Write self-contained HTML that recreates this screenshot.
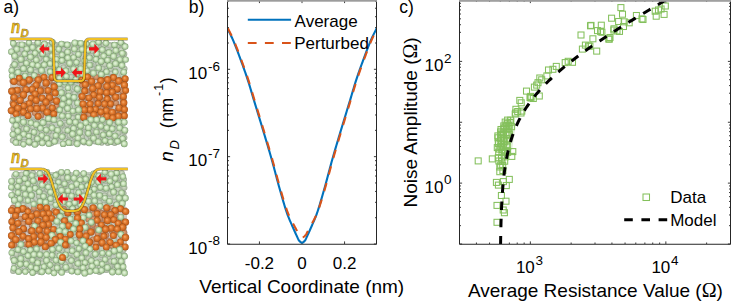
<!DOCTYPE html>
<html><head><meta charset="utf-8"><style>
html,body{margin:0;padding:0;background:#fff;}
body{width:732px;height:302px;overflow:hidden;font-family:"Liberation Sans",sans-serif;}
svg{display:block;}
</style></head><body><svg width="732" height="302" viewBox="0 0 732 302">
<defs>
<radialGradient id="gf" cx="50%" cy="50%" r="50%" fx="42%" fy="40%">
 <stop offset="0" stop-color="#e8f5e2"/><stop offset="0.45" stop-color="#cce4be"/>
 <stop offset="0.78" stop-color="#a4c494"/><stop offset="1" stop-color="#7a9a70"/></radialGradient>
<radialGradient id="gb" cx="50%" cy="50%" r="50%" fx="42%" fy="40%">
 <stop offset="0" stop-color="#d2dcc8"/><stop offset="0.6" stop-color="#b8c6ae"/>
 <stop offset="1" stop-color="#9aa892"/></radialGradient>
<radialGradient id="of" cx="50%" cy="50%" r="50%" fx="40%" fy="38%">
 <stop offset="0" stop-color="#f4ac6c"/><stop offset="0.45" stop-color="#e27c32"/>
 <stop offset="0.82" stop-color="#c8641e"/><stop offset="1" stop-color="#9c4e18"/></radialGradient>
<radialGradient id="ob" cx="50%" cy="50%" r="50%" fx="40%" fy="38%">
 <stop offset="0" stop-color="#e0a67c"/><stop offset="0.6" stop-color="#c88a60"/>
 <stop offset="1" stop-color="#a07058"/></radialGradient>
</defs><rect x="11.5" y="42.1" width="114.0" height="102.2" rx="3" fill="#c2cdbe"/><rect x="10.0" y="77.0" width="46.0" height="42.0" fill="#d2c8c0"/><rect x="82.0" y="77.0" width="45.0" height="42.0" fill="#d2c8c0"/><circle cx="83.6" cy="114.8" r="3.0" fill="url(#ob)"/><circle cx="109.1" cy="87.8" r="3.0" fill="url(#ob)"/><circle cx="104.5" cy="64.5" r="3.0" fill="url(#gb)"/><circle cx="110.0" cy="63.2" r="3.0" fill="url(#gb)"/><circle cx="108.8" cy="134.4" r="3.0" fill="url(#gb)"/><circle cx="41.6" cy="98.6" r="3.0" fill="url(#ob)"/><circle cx="58.7" cy="114.8" r="3.0" fill="url(#gb)"/><circle cx="42.6" cy="44.9" r="3.0" fill="url(#gb)"/><circle cx="87.1" cy="132.2" r="3.0" fill="url(#gb)"/><circle cx="97.3" cy="92.9" r="3.0" fill="url(#ob)"/><circle cx="28.9" cy="61.1" r="3.0" fill="url(#gb)"/><circle cx="124.0" cy="86.4" r="3.0" fill="url(#ob)"/><circle cx="63.6" cy="67.5" r="3.0" fill="url(#gb)"/><circle cx="64.4" cy="130.4" r="3.0" fill="url(#gb)"/><circle cx="58.6" cy="121.0" r="3.0" fill="url(#gb)"/><circle cx="87.0" cy="105.6" r="3.0" fill="url(#ob)"/><circle cx="13.3" cy="97.7" r="3.0" fill="url(#ob)"/><circle cx="102.7" cy="115.2" r="3.0" fill="url(#ob)"/><circle cx="115.9" cy="53.1" r="3.0" fill="url(#gb)"/><circle cx="81.2" cy="95.7" r="3.0" fill="url(#ob)"/><circle cx="79.4" cy="53.8" r="3.0" fill="url(#gb)"/><circle cx="59.3" cy="71.4" r="3.0" fill="url(#gb)"/><circle cx="22.2" cy="59.1" r="3.0" fill="url(#gb)"/><circle cx="72.3" cy="82.3" r="3.0" fill="url(#gb)"/><circle cx="53.1" cy="91.3" r="3.0" fill="url(#ob)"/><circle cx="29.5" cy="118.6" r="3.0" fill="url(#gb)"/><circle cx="99.3" cy="85.3" r="3.0" fill="url(#ob)"/><circle cx="122.8" cy="100.5" r="3.0" fill="url(#ob)"/><circle cx="67.0" cy="124.4" r="3.0" fill="url(#gb)"/><circle cx="85.4" cy="63.4" r="3.0" fill="url(#gb)"/><circle cx="81.9" cy="47.0" r="3.0" fill="url(#gb)"/><circle cx="89.2" cy="114.6" r="3.0" fill="url(#ob)"/><circle cx="36.1" cy="72.0" r="3.0" fill="url(#gb)"/><circle cx="71.1" cy="69.9" r="3.0" fill="url(#gb)"/><circle cx="26.1" cy="103.9" r="3.0" fill="url(#ob)"/><circle cx="29.8" cy="48.6" r="3.0" fill="url(#gb)"/><circle cx="45.5" cy="86.1" r="3.0" fill="url(#ob)"/><circle cx="91.4" cy="45.8" r="3.0" fill="url(#gb)"/><circle cx="110.7" cy="129.8" r="3.0" fill="url(#gb)"/><circle cx="58.3" cy="135.0" r="3.0" fill="url(#gb)"/><circle cx="68.3" cy="112.8" r="3.0" fill="url(#gb)"/><circle cx="44.1" cy="64.2" r="3.0" fill="url(#gb)"/><circle cx="77.7" cy="107.0" r="3.0" fill="url(#gb)"/><circle cx="96.7" cy="114.3" r="3.0" fill="url(#ob)"/><circle cx="69.1" cy="47.4" r="3.0" fill="url(#gb)"/><circle cx="36.5" cy="118.2" r="3.0" fill="url(#gb)"/><circle cx="46.5" cy="141.4" r="3.0" fill="url(#gb)"/><circle cx="109.8" cy="82.6" r="3.0" fill="url(#ob)"/><circle cx="35.4" cy="65.3" r="3.0" fill="url(#gb)"/><circle cx="64.6" cy="44.5" r="3.0" fill="url(#gb)"/><circle cx="48.9" cy="105.5" r="3.0" fill="url(#ob)"/><circle cx="110.0" cy="45.6" r="3.0" fill="url(#gb)"/><circle cx="32.2" cy="91.4" r="3.0" fill="url(#ob)"/><circle cx="117.3" cy="90.0" r="3.0" fill="url(#ob)"/><circle cx="32.6" cy="126.9" r="3.0" fill="url(#gb)"/><circle cx="21.9" cy="114.0" r="3.0" fill="url(#ob)"/><circle cx="28.6" cy="81.8" r="3.0" fill="url(#ob)"/><circle cx="65.3" cy="140.7" r="3.0" fill="url(#gb)"/><circle cx="21.5" cy="124.2" r="3.0" fill="url(#gb)"/><circle cx="117.7" cy="45.8" r="3.0" fill="url(#gb)"/><circle cx="43.6" cy="111.0" r="3.0" fill="url(#ob)"/><circle cx="18.5" cy="101.1" r="3.0" fill="url(#ob)"/><circle cx="42.9" cy="105.2" r="3.0" fill="url(#ob)"/><circle cx="82.1" cy="85.4" r="3.0" fill="url(#ob)"/><circle cx="45.3" cy="57.6" r="3.0" fill="url(#gb)"/><circle cx="93.1" cy="86.7" r="3.0" fill="url(#ob)"/><circle cx="119.7" cy="96.6" r="3.0" fill="url(#ob)"/><circle cx="15.4" cy="135.5" r="3.0" fill="url(#gb)"/><circle cx="101.3" cy="56.7" r="3.0" fill="url(#gb)"/><circle cx="71.2" cy="76.9" r="3.0" fill="url(#gb)"/><circle cx="66.1" cy="97.2" r="3.0" fill="url(#gb)"/><circle cx="37.4" cy="133.4" r="3.0" fill="url(#gb)"/><circle cx="84.2" cy="142.4" r="3.0" fill="url(#gb)"/><circle cx="46.9" cy="51.8" r="3.0" fill="url(#gb)"/><circle cx="36.7" cy="143.3" r="3.0" fill="url(#gb)"/><circle cx="37.0" cy="43.7" r="3.0" fill="url(#gb)"/><circle cx="113.4" cy="125.1" r="3.0" fill="url(#gb)"/><circle cx="101.1" cy="49.6" r="3.0" fill="url(#gb)"/><circle cx="107.3" cy="93.4" r="3.0" fill="url(#ob)"/><circle cx="93.5" cy="58.5" r="3.0" fill="url(#gb)"/><circle cx="15.7" cy="120.2" r="3.0" fill="url(#gb)"/><circle cx="43.8" cy="77.9" r="3.0" fill="url(#ob)"/><circle cx="117.9" cy="110.2" r="3.0" fill="url(#ob)"/><circle cx="110.1" cy="113.5" r="3.0" fill="url(#ob)"/><circle cx="39.2" cy="127.4" r="3.0" fill="url(#gb)"/><circle cx="48.7" cy="93.9" r="3.0" fill="url(#ob)"/><circle cx="53.5" cy="85.0" r="3.0" fill="url(#ob)"/><circle cx="36.8" cy="105.2" r="3.0" fill="url(#ob)"/><circle cx="25.2" cy="52.8" r="3.0" fill="url(#gb)"/><circle cx="58.9" cy="99.6" r="3.0" fill="url(#gb)"/><circle cx="112.5" cy="77.1" r="3.0" fill="url(#ob)"/><circle cx="37.9" cy="76.8" r="3.0" fill="url(#ob)"/><circle cx="107.7" cy="142.9" r="3.0" fill="url(#gb)"/><circle cx="48.9" cy="131.4" r="3.0" fill="url(#gb)"/><circle cx="100.3" cy="127.2" r="3.0" fill="url(#gb)"/><circle cx="102.7" cy="78.4" r="3.0" fill="url(#ob)"/><circle cx="64.7" cy="85.1" r="3.0" fill="url(#gb)"/><circle cx="119.4" cy="140.8" r="3.0" fill="url(#gb)"/><circle cx="113.1" cy="93.9" r="3.0" fill="url(#ob)"/><circle cx="72.6" cy="98.7" r="3.0" fill="url(#gb)"/><circle cx="96.5" cy="77.3" r="3.0" fill="url(#ob)"/><circle cx="12.5" cy="80.9" r="3.0" fill="url(#ob)"/><circle cx="32.3" cy="137.1" r="3.0" fill="url(#gb)"/><circle cx="23.8" cy="128.9" r="3.0" fill="url(#gb)"/><circle cx="124.5" cy="131.9" r="3.0" fill="url(#gb)"/><circle cx="105.7" cy="129.4" r="3.0" fill="url(#gb)"/><circle cx="88.9" cy="83.5" r="3.0" fill="url(#ob)"/><circle cx="59.2" cy="61.5" r="3.0" fill="url(#gb)"/><circle cx="14.4" cy="45.3" r="3.0" fill="url(#gb)"/><circle cx="81.1" cy="101.1" r="3.0" fill="url(#ob)"/><circle cx="51.7" cy="49.9" r="3.0" fill="url(#gb)"/><circle cx="56.5" cy="106.0" r="3.0" fill="url(#ob)"/><circle cx="73.1" cy="62.4" r="3.0" fill="url(#gb)"/><circle cx="114.7" cy="142.9" r="3.0" fill="url(#gb)"/><circle cx="98.3" cy="63.2" r="3.0" fill="url(#gb)"/><circle cx="52.5" cy="135.7" r="3.0" fill="url(#gb)"/><circle cx="72.7" cy="118.1" r="3.0" fill="url(#gb)"/><circle cx="13.5" cy="128.9" r="3.0" fill="url(#gb)"/><circle cx="124.3" cy="53.9" r="3.0" fill="url(#gb)"/><circle cx="62.8" cy="54.1" r="3.0" fill="url(#gb)"/><circle cx="14.4" cy="89.9" r="3.0" fill="url(#ob)"/><circle cx="96.8" cy="52.1" r="3.0" fill="url(#gb)"/><circle cx="40.2" cy="139.1" r="3.0" fill="url(#gb)"/><circle cx="115.0" cy="70.9" r="3.0" fill="url(#gb)"/><circle cx="75.9" cy="73.8" r="3.0" fill="url(#gb)"/><circle cx="68.9" cy="91.9" r="3.0" fill="url(#gb)"/><circle cx="13.6" cy="111.9" r="3.0" fill="url(#ob)"/><circle cx="96.8" cy="103.7" r="3.0" fill="url(#ob)"/><circle cx="91.9" cy="101.0" r="3.0" fill="url(#ob)"/><circle cx="34.8" cy="113.0" r="3.0" fill="url(#ob)"/><circle cx="16.2" cy="62.1" r="3.0" fill="url(#gb)"/><circle cx="40.2" cy="68.0" r="3.0" fill="url(#gb)"/><circle cx="39.4" cy="58.6" r="3.0" fill="url(#gb)"/><circle cx="21.0" cy="135.0" r="3.0" fill="url(#gb)"/><circle cx="94.6" cy="131.7" r="3.0" fill="url(#gb)"/><circle cx="74.8" cy="87.6" r="3.0" fill="url(#gb)"/><circle cx="107.8" cy="98.8" r="3.0" fill="url(#ob)"/><circle cx="18.8" cy="53.2" r="3.0" fill="url(#gb)"/><circle cx="86.5" cy="52.1" r="3.0" fill="url(#gb)"/><circle cx="24.3" cy="141.8" r="3.0" fill="url(#gb)"/><circle cx="32.6" cy="56.3" r="3.0" fill="url(#gb)"/><circle cx="122.1" cy="59.2" r="3.0" fill="url(#gb)"/><circle cx="116.2" cy="103.2" r="3.0" fill="url(#ob)"/><circle cx="75.8" cy="47.6" r="3.0" fill="url(#gb)"/><circle cx="82.0" cy="136.9" r="3.0" fill="url(#gb)"/><circle cx="40.2" cy="51.2" r="3.0" fill="url(#gb)"/><circle cx="22.9" cy="96.6" r="3.0" fill="url(#ob)"/><circle cx="124.5" cy="68.8" r="3.0" fill="url(#gb)"/><circle cx="122.4" cy="91.2" r="3.0" fill="url(#ob)"/><circle cx="23.4" cy="68.9" r="3.0" fill="url(#gb)"/><circle cx="74.9" cy="137.3" r="3.0" fill="url(#gb)"/><circle cx="40.2" cy="88.6" r="3.0" fill="url(#ob)"/><circle cx="78.3" cy="125.2" r="3.0" fill="url(#gb)"/><circle cx="48.8" cy="122.4" r="3.0" fill="url(#gb)"/><circle cx="22.9" cy="77.9" r="3.0" fill="url(#ob)"/><circle cx="90.5" cy="141.2" r="3.0" fill="url(#gb)"/><circle cx="20.6" cy="89.6" r="3.0" fill="url(#ob)"/><circle cx="60.4" cy="88.7" r="3.0" fill="url(#gb)"/><circle cx="53.4" cy="119.5" r="3.0" fill="url(#gb)"/><circle cx="65.2" cy="118.0" r="3.0" fill="url(#gb)"/><circle cx="19.5" cy="82.7" r="3.0" fill="url(#ob)"/><circle cx="44.8" cy="126.9" r="3.0" fill="url(#gb)"/><circle cx="122.5" cy="75.0" r="3.0" fill="url(#gb)"/><circle cx="106.9" cy="75.6" r="3.0" fill="url(#gb)"/><circle cx="17.0" cy="69.7" r="3.0" fill="url(#gb)"/><circle cx="80.7" cy="66.5" r="3.0" fill="url(#gb)"/><circle cx="91.8" cy="51.3" r="3.0" fill="url(#gb)"/><circle cx="61.6" cy="125.3" r="3.0" fill="url(#gb)"/><circle cx="73.7" cy="113.1" r="3.0" fill="url(#gb)"/><circle cx="12.6" cy="66.3" r="3.0" fill="url(#gb)"/><circle cx="27.6" cy="135.6" r="3.0" fill="url(#gb)"/><circle cx="54.7" cy="44.4" r="3.0" fill="url(#gb)"/><circle cx="41.2" cy="115.5" r="3.0" fill="url(#ob)"/><circle cx="50.3" cy="70.6" r="3.0" fill="url(#gb)"/><circle cx="70.6" cy="54.9" r="3.0" fill="url(#gb)"/><circle cx="63.6" cy="111.1" r="3.0" fill="url(#gb)"/><circle cx="118.1" cy="115.9" r="3.0" fill="url(#ob)"/><circle cx="42.9" cy="73.0" r="3.0" fill="url(#gb)"/><circle cx="62.2" cy="104.2" r="3.0" fill="url(#gb)"/><circle cx="107.2" cy="52.6" r="3.0" fill="url(#gb)"/><circle cx="92.7" cy="71.9" r="3.0" fill="url(#gb)"/><circle cx="78.2" cy="59.6" r="3.0" fill="url(#gb)"/><circle cx="81.0" cy="74.6" r="3.0" fill="url(#gb)"/><circle cx="102.0" cy="108.9" r="3.0" fill="url(#ob)"/><circle cx="116.1" cy="62.5" r="3.0" fill="url(#gb)"/><circle cx="33.6" cy="86.4" r="3.0" fill="url(#ob)"/><circle cx="56.5" cy="76.9" r="3.0" fill="url(#ob)"/><circle cx="93.1" cy="124.3" r="3.0" fill="url(#gb)"/><circle cx="67.2" cy="58.7" r="3.0" fill="url(#gb)"/><circle cx="101.7" cy="142.8" r="3.0" fill="url(#gb)"/><circle cx="122.7" cy="44.3" r="3.0" fill="url(#gb)"/><circle cx="110.5" cy="69.0" r="3.0" fill="url(#gb)"/><circle cx="69.7" cy="135.7" r="3.0" fill="url(#gb)"/><circle cx="65.2" cy="75.2" r="3.0" fill="url(#gb)"/><circle cx="72.9" cy="129.8" r="3.0" fill="url(#gb)"/><circle cx="101.0" cy="73.6" r="3.0" fill="url(#gb)"/><circle cx="99.5" cy="43.1" r="3.0" fill="url(#gb)"/><circle cx="120.7" cy="127.8" r="3.0" fill="url(#gb)"/><circle cx="102.7" cy="137.0" r="3.0" fill="url(#gb)"/><circle cx="32.7" cy="78.8" r="3.0" fill="url(#ob)"/><circle cx="95.7" cy="141.4" r="3.0" fill="url(#gb)"/><circle cx="49.4" cy="116.7" r="3.0" fill="url(#ob)"/><circle cx="92.1" cy="93.1" r="3.0" fill="url(#ob)"/><circle cx="86.2" cy="77.2" r="3.0" fill="url(#ob)"/><circle cx="29.8" cy="143.2" r="3.0" fill="url(#gb)"/><circle cx="86.2" cy="120.4" r="3.0" fill="url(#gb)"/><circle cx="37.7" cy="94.2" r="3.0" fill="url(#ob)"/><circle cx="19.2" cy="143.1" r="3.0" fill="url(#gb)"/><circle cx="41.0" cy="121.1" r="3.0" fill="url(#gb)"/><circle cx="16.4" cy="106.3" r="3.0" fill="url(#ob)"/><circle cx="123.5" cy="113.0" r="3.0" fill="url(#ob)"/><circle cx="118.5" cy="132.7" r="3.0" fill="url(#gb)"/><circle cx="74.8" cy="93.6" r="3.0" fill="url(#gb)"/><circle cx="108.5" cy="120.9" r="3.0" fill="url(#gb)"/><circle cx="55.9" cy="139.7" r="3.0" fill="url(#gb)"/><circle cx="91.4" cy="64.9" r="3.0" fill="url(#gb)"/><circle cx="119.5" cy="79.9" r="3.0" fill="url(#ob)"/><circle cx="110.2" cy="105.9" r="3.0" fill="url(#ob)"/><circle cx="52.4" cy="62.7" r="3.0" fill="url(#gb)"/><circle cx="54.3" cy="67.3" r="3.0" fill="url(#gb)"/><circle cx="24.2" cy="45.8" r="3.0" fill="url(#gb)"/><circle cx="124.4" cy="137.7" r="3.0" fill="url(#gb)"/><circle cx="78.1" cy="80.7" r="3.0" fill="url(#gb)"/><circle cx="14.0" cy="54.4" r="3.0" fill="url(#gb)"/><circle cx="70.0" cy="107.3" r="3.0" fill="url(#gb)"/><circle cx="113.7" cy="136.7" r="3.0" fill="url(#gb)"/><circle cx="84.9" cy="127.0" r="3.0" fill="url(#gb)"/><circle cx="13.3" cy="73.2" r="3.0" fill="url(#gb)"/><circle cx="101.1" cy="132.2" r="3.0" fill="url(#gb)"/><circle cx="92.5" cy="118.7" r="3.0" fill="url(#gb)"/><circle cx="31.0" cy="102.7" r="3.0" fill="url(#ob)"/><circle cx="27.4" cy="110.3" r="3.0" fill="url(#ob)"/><circle cx="56.9" cy="52.1" r="3.0" fill="url(#gb)"/><circle cx="26.5" cy="122.5" r="3.0" fill="url(#gb)"/><circle cx="97.2" cy="121.6" r="3.0" fill="url(#gb)"/><circle cx="30.3" cy="71.9" r="3.0" fill="url(#gb)"/><circle cx="104.4" cy="86.7" r="3.0" fill="url(#ob)"/><circle cx="111.6" cy="55.9" r="3.0" fill="url(#gb)"/><circle cx="55.1" cy="111.0" r="3.0" fill="url(#ob)"/><circle cx="43.9" cy="134.4" r="3.0" fill="url(#gb)"/><circle cx="113.5" cy="118.0" r="3.0" fill="url(#gb)"/><circle cx="115.2" cy="83.1" r="3.0" fill="url(#ob)"/><circle cx="37.8" cy="83.7" r="3.0" fill="url(#ob)"/><circle cx="58.8" cy="81.9" r="3.0" fill="url(#gb)"/><circle cx="123.3" cy="120.9" r="3.0" fill="url(#gb)"/><circle cx="86.8" cy="98.0" r="3.0" fill="url(#ob)"/><circle cx="26.4" cy="90.3" r="3.0" fill="url(#ob)"/><circle cx="35.0" cy="49.5" r="3.0" fill="url(#gb)"/><circle cx="85.4" cy="58.3" r="3.0" fill="url(#gb)"/><circle cx="29.3" cy="43.6" r="3.0" fill="url(#gb)"/><circle cx="96.9" cy="68.3" r="3.0" fill="url(#gb)"/><circle cx="79.0" cy="90.7" r="3.0" fill="url(#gb)"/><circle cx="56.3" cy="130.4" r="3.0" fill="url(#gb)"/><circle cx="91.0" cy="78.7" r="3.0" fill="url(#ob)"/><circle cx="67.1" cy="103.2" r="3.0" fill="url(#gb)"/><circle cx="78.6" cy="112.4" r="3.0" fill="url(#gb)"/><circle cx="22.4" cy="118.9" r="3.0" fill="url(#gb)"/><circle cx="63.3" cy="92.9" r="3.0" fill="url(#gb)"/><circle cx="51.0" cy="57.8" r="3.0" fill="url(#gb)"/><circle cx="101.5" cy="99.7" r="3.0" fill="url(#ob)"/><circle cx="80.5" cy="130.9" r="3.0" fill="url(#gb)"/><circle cx="87.6" cy="70.9" r="3.0" fill="url(#gb)"/><circle cx="120.8" cy="65.3" r="3.0" fill="url(#gb)"/><circle cx="28.3" cy="67.3" r="3.0" fill="url(#gb)"/><circle cx="67.7" cy="64.1" r="3.0" fill="url(#gb)"/><circle cx="18.8" cy="74.9" r="3.0" fill="url(#gb)"/><circle cx="124.3" cy="81.1" r="3.0" fill="url(#ob)"/><circle cx="31.9" cy="97.4" r="3.0" fill="url(#ob)"/><circle cx="46.5" cy="100.1" r="3.0" fill="url(#ob)"/><circle cx="86.8" cy="90.9" r="3.0" fill="url(#ob)"/><circle cx="58.1" cy="94.1" r="3.0" fill="url(#gb)"/><circle cx="77.9" cy="120.3" r="3.0" fill="url(#gb)"/><circle cx="82.7" cy="109.3" r="3.0" fill="url(#ob)"/><circle cx="75.8" cy="67.6" r="3.0" fill="url(#gb)"/><circle cx="92.5" cy="109.5" r="3.0" fill="url(#ob)"/><circle cx="50.7" cy="75.7" r="3.0" fill="url(#gb)"/><circle cx="51.8" cy="100.2" r="3.0" fill="url(#ob)"/><circle cx="103.2" cy="121.6" r="3.0" fill="url(#gb)"/><circle cx="12.8" cy="140.6" r="3.0" fill="url(#gb)"/><circle cx="48.9" cy="110.7" r="3.0" fill="url(#ob)"/><circle cx="21.5" cy="108.8" r="3.0" fill="url(#ob)"/><circle cx="19.2" cy="44.5" r="3.0" fill="url(#gb)"/><circle cx="48.4" cy="45.5" r="3.0" fill="url(#gb)"/><circle cx="76.6" cy="142.6" r="3.0" fill="url(#gb)"/><circle cx="25.5" cy="73.7" r="3.0" fill="url(#gb)"/><circle cx="51.6" cy="126.6" r="3.0" fill="url(#gb)"/><circle cx="96.8" cy="136.3" r="3.0" fill="url(#gb)"/><circle cx="66.1" cy="80.3" r="3.0" fill="url(#gb)"/><circle cx="44.5" cy="91.1" r="3.0" fill="url(#ob)"/><circle cx="123.0" cy="105.4" r="3.0" fill="url(#ob)"/><circle cx="104.0" cy="45.2" r="3.0" fill="url(#gb)"/><circle cx="71.6" cy="143.1" r="3.0" fill="url(#gb)"/><circle cx="49.6" cy="81.4" r="3.0" fill="url(#ob)"/><circle cx="85.8" cy="43.4" r="3.0" fill="url(#gb)"/><circle cx="59.9" cy="47.0" r="3.0" fill="url(#gb)"/><circle cx="78.0" cy="43.2" r="3.0" fill="url(#gb)"/><circle cx="72.6" cy="123.3" r="3.0" fill="url(#gb)"/><circle cx="104.7" cy="103.6" r="3.0" fill="url(#ob)"/><circle cx="18.3" cy="130.3" r="3.0" fill="url(#gb)"/><circle cx="17.6" cy="94.0" r="3.0" fill="url(#ob)"/><circle cx="90.4" cy="136.2" r="3.0" fill="url(#gb)"/><circle cx="96.7" cy="98.3" r="3.0" fill="url(#ob)"/><circle cx="30.5" cy="131.4" r="3.0" fill="url(#gb)"/><circle cx="102.5" cy="68.9" r="3.0" fill="url(#gb)"/><circle cx="51.3" cy="143.3" r="3.0" fill="url(#gb)"/><circle cx="102.5" cy="92.1" r="3.0" fill="url(#ob)"/><circle cx="106.4" cy="59.9" r="3.0" fill="url(#gb)"/><circle cx="12.5" cy="103.0" r="3.0" fill="url(#ob)"/><circle cx="63.3" cy="135.2" r="3.0" fill="url(#gb)"/><circle cx="32.5" cy="107.7" r="3.0" fill="url(#ob)"/><circle cx="96.3" cy="46.9" r="3.0" fill="url(#gb)"/><circle cx="117.6" cy="122.3" r="3.0" fill="url(#gb)"/><circle cx="33.2" cy="122.1" r="3.0" fill="url(#gb)"/><circle cx="121.1" cy="50.1" r="3.0" fill="url(#gb)"/><circle cx="24.5" cy="84.5" r="3.0" fill="url(#ob)"/><circle cx="38.7" cy="109.8" r="3.0" fill="url(#ob)"/><circle cx="21.3" cy="64.5" r="3.0" fill="url(#gb)"/><circle cx="123.7" cy="143.3" r="3.0" fill="url(#gb)"/><circle cx="112.9" cy="99.3" r="3.0" fill="url(#ob)"/><circle cx="98.5" cy="42.1" r="3.2" fill="url(#gf)"/><circle cx="52.4" cy="42.2" r="3.3" fill="url(#gf)"/><circle cx="120.8" cy="42.4" r="3.2" fill="url(#gf)"/><circle cx="29.0" cy="42.5" r="3.1" fill="url(#gf)"/><circle cx="38.0" cy="42.6" r="3.3" fill="url(#gf)"/><circle cx="74.9" cy="42.9" r="3.4" fill="url(#gf)"/><circle cx="106.0" cy="43.1" r="3.3" fill="url(#gf)"/><circle cx="80.8" cy="43.3" r="3.3" fill="url(#gf)"/><circle cx="13.2" cy="43.3" r="3.2" fill="url(#gf)"/><circle cx="86.5" cy="43.9" r="3.1" fill="url(#gf)"/><circle cx="61.5" cy="44.0" r="3.2" fill="url(#gf)"/><circle cx="44.4" cy="44.1" r="3.3" fill="url(#gf)"/><circle cx="92.9" cy="44.2" r="3.4" fill="url(#gf)"/><circle cx="22.0" cy="44.8" r="3.3" fill="url(#gf)"/><circle cx="67.3" cy="44.9" r="3.3" fill="url(#gf)"/><circle cx="114.5" cy="45.0" r="3.2" fill="url(#gf)"/><circle cx="125.1" cy="46.6" r="3.3" fill="url(#gf)"/><circle cx="32.6" cy="47.5" r="3.3" fill="url(#gf)"/><circle cx="26.8" cy="48.9" r="3.2" fill="url(#gf)"/><circle cx="50.7" cy="49.0" r="3.3" fill="url(#gf)"/><circle cx="74.4" cy="49.1" r="3.2" fill="url(#gf)"/><circle cx="58.8" cy="49.2" r="3.2" fill="url(#gf)"/><circle cx="16.8" cy="49.2" r="3.4" fill="url(#gf)"/><circle cx="39.2" cy="49.3" r="3.4" fill="url(#gf)"/><circle cx="82.1" cy="49.5" r="3.3" fill="url(#gf)"/><circle cx="102.3" cy="49.8" r="3.3" fill="url(#gf)"/><circle cx="88.3" cy="50.4" r="3.1" fill="url(#gf)"/><circle cx="115.9" cy="50.5" r="3.3" fill="url(#gf)"/><circle cx="11.4" cy="51.7" r="3.3" fill="url(#gf)"/><circle cx="67.6" cy="52.1" r="3.3" fill="url(#gf)"/><circle cx="109.0" cy="52.7" r="3.4" fill="url(#gf)"/><circle cx="35.1" cy="53.2" r="3.2" fill="url(#gf)"/><circle cx="122.3" cy="53.3" r="3.3" fill="url(#gf)"/><circle cx="96.7" cy="53.8" r="3.4" fill="url(#gf)"/><circle cx="42.6" cy="53.9" r="3.2" fill="url(#gf)"/><circle cx="24.8" cy="54.0" r="3.2" fill="url(#gf)"/><circle cx="78.4" cy="54.4" r="3.2" fill="url(#gf)"/><circle cx="62.0" cy="55.0" r="3.2" fill="url(#gf)"/><circle cx="51.9" cy="56.1" r="3.3" fill="url(#gf)"/><circle cx="103.8" cy="56.1" r="3.3" fill="url(#gf)"/><circle cx="14.8" cy="56.1" r="3.4" fill="url(#gf)"/><circle cx="113.6" cy="56.4" r="3.4" fill="url(#gf)"/><circle cx="30.5" cy="57.1" r="3.3" fill="url(#gf)"/><circle cx="73.6" cy="57.5" r="3.1" fill="url(#gf)"/><circle cx="89.4" cy="57.8" r="3.3" fill="url(#gf)"/><circle cx="67.8" cy="57.9" r="3.3" fill="url(#gf)"/><circle cx="20.9" cy="59.3" r="3.4" fill="url(#gf)"/><circle cx="46.2" cy="59.3" r="3.2" fill="url(#gf)"/><circle cx="56.3" cy="59.3" r="3.3" fill="url(#gf)"/><circle cx="96.0" cy="59.4" r="3.2" fill="url(#gf)"/><circle cx="125.7" cy="59.6" r="3.2" fill="url(#gf)"/><circle cx="119.9" cy="59.6" r="3.2" fill="url(#gf)"/><circle cx="36.3" cy="60.0" r="3.3" fill="url(#gf)"/><circle cx="107.6" cy="60.2" r="3.2" fill="url(#gf)"/><circle cx="62.0" cy="60.5" r="3.2" fill="url(#gf)"/><circle cx="84.8" cy="60.9" r="3.2" fill="url(#gf)"/><circle cx="101.2" cy="61.4" r="3.4" fill="url(#gf)"/><circle cx="76.5" cy="62.4" r="3.1" fill="url(#gf)"/><circle cx="26.5" cy="63.2" r="3.2" fill="url(#gf)"/><circle cx="69.7" cy="63.3" r="3.4" fill="url(#gf)"/><circle cx="115.6" cy="63.7" r="3.4" fill="url(#gf)"/><circle cx="50.1" cy="63.7" r="3.2" fill="url(#gf)"/><circle cx="14.6" cy="64.6" r="3.3" fill="url(#gf)"/><circle cx="32.5" cy="64.7" r="3.3" fill="url(#gf)"/><circle cx="55.9" cy="64.9" r="3.3" fill="url(#gf)"/><circle cx="44.3" cy="64.9" r="3.3" fill="url(#gf)"/><circle cx="89.7" cy="65.1" r="3.2" fill="url(#gf)"/><circle cx="121.9" cy="65.4" r="3.3" fill="url(#gf)"/><circle cx="37.9" cy="65.6" r="3.2" fill="url(#gf)"/><circle cx="109.8" cy="65.7" r="3.3" fill="url(#gf)"/><circle cx="98.7" cy="68.0" r="3.3" fill="url(#gf)"/><circle cx="23.5" cy="68.7" r="3.4" fill="url(#gf)"/><circle cx="80.7" cy="68.8" r="3.4" fill="url(#gf)"/><circle cx="73.7" cy="69.1" r="3.4" fill="url(#gf)"/><circle cx="59.5" cy="69.8" r="3.2" fill="url(#gf)"/><circle cx="30.5" cy="69.9" r="3.3" fill="url(#gf)"/><circle cx="11.7" cy="70.4" r="3.2" fill="url(#gf)"/><circle cx="41.6" cy="70.5" r="3.4" fill="url(#gf)"/><circle cx="65.9" cy="70.8" r="3.2" fill="url(#gf)"/><circle cx="87.2" cy="70.9" r="3.1" fill="url(#gf)"/><circle cx="50.2" cy="71.8" r="3.2" fill="url(#gf)"/><circle cx="106.5" cy="71.8" r="3.2" fill="url(#gf)"/><circle cx="115.4" cy="72.0" r="3.1" fill="url(#gf)"/><circle cx="123.8" cy="72.2" r="3.3" fill="url(#gf)"/><circle cx="18.0" cy="72.5" r="3.4" fill="url(#gf)"/><circle cx="93.5" cy="73.2" r="3.3" fill="url(#gf)"/><circle cx="76.8" cy="73.8" r="3.2" fill="url(#gf)"/><circle cx="82.5" cy="74.4" r="3.2" fill="url(#gf)"/><circle cx="101.3" cy="74.4" r="3.3" fill="url(#gf)"/><circle cx="34.2" cy="75.5" r="3.2" fill="url(#gf)"/><circle cx="12.0" cy="76.0" r="3.2" fill="url(#gf)"/><circle cx="25.1" cy="76.0" r="3.2" fill="url(#gf)"/><circle cx="66.4" cy="76.4" r="3.2" fill="url(#gf)"/><circle cx="87.5" cy="77.0" r="3.5" fill="url(#of)"/><circle cx="44.0" cy="77.2" r="3.5" fill="url(#of)"/><circle cx="52.1" cy="77.4" r="3.5" fill="url(#of)"/><circle cx="113.6" cy="77.6" r="3.5" fill="url(#of)"/><circle cx="19.3" cy="78.2" r="3.4" fill="url(#of)"/><circle cx="59.6" cy="78.3" r="3.4" fill="url(#gf)"/><circle cx="125.2" cy="78.7" r="3.5" fill="url(#of)"/><circle cx="107.6" cy="79.7" r="3.6" fill="url(#of)"/><circle cx="76.0" cy="79.7" r="3.4" fill="url(#gf)"/><circle cx="38.3" cy="79.9" r="3.7" fill="url(#of)"/><circle cx="29.2" cy="79.9" r="3.6" fill="url(#of)"/><circle cx="81.7" cy="80.2" r="3.4" fill="url(#of)"/><circle cx="100.8" cy="80.7" r="3.6" fill="url(#of)"/><circle cx="118.8" cy="81.0" r="3.7" fill="url(#of)"/><circle cx="91.6" cy="81.5" r="3.6" fill="url(#of)"/><circle cx="14.0" cy="81.5" r="3.5" fill="url(#of)"/><circle cx="64.9" cy="82.2" r="3.1" fill="url(#gf)"/><circle cx="70.9" cy="82.2" r="3.2" fill="url(#gf)"/><circle cx="23.4" cy="82.6" r="3.7" fill="url(#of)"/><circle cx="46.1" cy="82.9" r="3.7" fill="url(#of)"/><circle cx="59.3" cy="83.9" r="3.1" fill="url(#gf)"/><circle cx="85.3" cy="84.6" r="3.6" fill="url(#of)"/><circle cx="124.4" cy="85.1" r="3.7" fill="url(#of)"/><circle cx="36.1" cy="85.2" r="3.5" fill="url(#of)"/><circle cx="112.5" cy="85.2" r="3.5" fill="url(#of)"/><circle cx="98.0" cy="85.9" r="3.7" fill="url(#of)"/><circle cx="106.9" cy="86.3" r="3.6" fill="url(#of)"/><circle cx="54.2" cy="86.9" r="3.6" fill="url(#of)"/><circle cx="68.0" cy="88.0" r="3.1" fill="url(#gf)"/><circle cx="92.7" cy="88.5" r="3.6" fill="url(#of)"/><circle cx="117.2" cy="88.9" r="3.5" fill="url(#of)"/><circle cx="77.4" cy="89.0" r="3.4" fill="url(#gf)"/><circle cx="32.1" cy="89.3" r="3.6" fill="url(#of)"/><circle cx="26.1" cy="89.4" r="3.5" fill="url(#of)"/><circle cx="17.3" cy="90.2" r="3.5" fill="url(#of)"/><circle cx="48.1" cy="90.5" r="3.5" fill="url(#of)"/><circle cx="125.7" cy="90.5" r="3.4" fill="url(#of)"/><circle cx="40.3" cy="90.8" r="3.6" fill="url(#of)"/><circle cx="84.7" cy="91.0" r="3.4" fill="url(#of)"/><circle cx="11.8" cy="91.3" r="3.7" fill="url(#of)"/><circle cx="100.2" cy="91.7" r="3.5" fill="url(#of)"/><circle cx="112.2" cy="92.0" r="3.4" fill="url(#of)"/><circle cx="106.6" cy="92.7" r="3.5" fill="url(#of)"/><circle cx="61.4" cy="92.8" r="3.4" fill="url(#gf)"/><circle cx="55.2" cy="93.1" r="3.5" fill="url(#of)"/><circle cx="35.1" cy="94.0" r="3.5" fill="url(#of)"/><circle cx="23.5" cy="94.7" r="3.7" fill="url(#of)"/><circle cx="93.7" cy="94.9" r="3.4" fill="url(#of)"/><circle cx="68.6" cy="95.9" r="3.2" fill="url(#gf)"/><circle cx="82.2" cy="96.4" r="3.5" fill="url(#of)"/><circle cx="123.4" cy="96.5" r="3.5" fill="url(#of)"/><circle cx="115.7" cy="97.1" r="3.6" fill="url(#of)"/><circle cx="99.5" cy="97.3" r="3.5" fill="url(#of)"/><circle cx="74.1" cy="97.4" r="3.3" fill="url(#gf)"/><circle cx="14.2" cy="97.5" r="3.6" fill="url(#of)"/><circle cx="49.5" cy="97.7" r="3.7" fill="url(#of)"/><circle cx="88.9" cy="97.8" r="3.4" fill="url(#of)"/><circle cx="42.1" cy="98.1" r="3.6" fill="url(#of)"/><circle cx="31.1" cy="98.2" r="3.4" fill="url(#of)"/><circle cx="63.7" cy="98.6" r="3.2" fill="url(#gf)"/><circle cx="107.2" cy="99.0" r="3.4" fill="url(#of)"/><circle cx="36.2" cy="100.3" r="3.6" fill="url(#of)"/><circle cx="20.2" cy="100.4" r="3.6" fill="url(#of)"/><circle cx="56.5" cy="101.0" r="3.7" fill="url(#of)"/><circle cx="46.0" cy="102.2" r="3.6" fill="url(#of)"/><circle cx="69.1" cy="102.3" r="3.2" fill="url(#gf)"/><circle cx="123.8" cy="102.8" r="3.6" fill="url(#of)"/><circle cx="77.5" cy="103.1" r="3.3" fill="url(#gf)"/><circle cx="29.2" cy="103.5" r="3.5" fill="url(#of)"/><circle cx="98.2" cy="103.5" r="3.4" fill="url(#of)"/><circle cx="110.6" cy="103.9" r="3.4" fill="url(#of)"/><circle cx="90.1" cy="104.0" r="3.5" fill="url(#of)"/><circle cx="104.6" cy="104.0" r="3.5" fill="url(#of)"/><circle cx="83.1" cy="104.0" r="3.6" fill="url(#of)"/><circle cx="13.7" cy="104.6" r="3.5" fill="url(#of)"/><circle cx="62.5" cy="104.6" r="3.4" fill="url(#gf)"/><circle cx="23.8" cy="106.0" r="3.4" fill="url(#of)"/><circle cx="52.3" cy="107.9" r="3.4" fill="url(#of)"/><circle cx="119.1" cy="107.9" r="3.6" fill="url(#of)"/><circle cx="17.9" cy="108.2" r="3.7" fill="url(#of)"/><circle cx="42.8" cy="108.2" r="3.6" fill="url(#of)"/><circle cx="67.6" cy="108.4" r="3.4" fill="url(#gf)"/><circle cx="36.8" cy="108.5" r="3.7" fill="url(#of)"/><circle cx="30.5" cy="108.9" r="3.5" fill="url(#of)"/><circle cx="124.5" cy="109.4" r="3.5" fill="url(#of)"/><circle cx="95.6" cy="109.4" r="3.6" fill="url(#of)"/><circle cx="90.0" cy="109.8" r="3.6" fill="url(#of)"/><circle cx="84.5" cy="109.9" r="3.5" fill="url(#of)"/><circle cx="59.8" cy="109.9" r="3.1" fill="url(#gf)"/><circle cx="78.6" cy="110.0" r="3.4" fill="url(#gf)"/><circle cx="11.3" cy="110.6" r="3.6" fill="url(#of)"/><circle cx="106.3" cy="110.7" r="3.6" fill="url(#of)"/><circle cx="72.9" cy="111.1" r="3.1" fill="url(#gf)"/><circle cx="100.9" cy="112.0" r="3.4" fill="url(#of)"/><circle cx="23.5" cy="112.2" r="3.6" fill="url(#of)"/><circle cx="47.1" cy="112.3" r="3.7" fill="url(#of)"/><circle cx="112.3" cy="112.4" r="3.7" fill="url(#of)"/><circle cx="53.8" cy="113.9" r="3.4" fill="url(#of)"/><circle cx="16.2" cy="114.1" r="3.4" fill="url(#of)"/><circle cx="93.9" cy="114.9" r="3.7" fill="url(#of)"/><circle cx="28.0" cy="115.7" r="3.4" fill="url(#of)"/><circle cx="124.4" cy="115.7" r="3.5" fill="url(#of)"/><circle cx="62.2" cy="116.0" r="3.3" fill="url(#gf)"/><circle cx="68.3" cy="116.1" r="3.2" fill="url(#gf)"/><circle cx="118.4" cy="116.3" r="3.7" fill="url(#of)"/><circle cx="38.1" cy="116.4" r="3.4" fill="url(#of)"/><circle cx="107.1" cy="116.6" r="3.7" fill="url(#of)"/><circle cx="78.2" cy="117.2" r="3.1" fill="url(#gf)"/><circle cx="83.8" cy="117.4" r="3.6" fill="url(#of)"/><circle cx="112.7" cy="117.9" r="3.5" fill="url(#of)"/><circle cx="48.5" cy="118.7" r="3.4" fill="url(#gf)"/><circle cx="17.8" cy="119.5" r="3.3" fill="url(#gf)"/><circle cx="96.7" cy="119.7" r="3.3" fill="url(#gf)"/><circle cx="102.5" cy="119.8" r="3.1" fill="url(#gf)"/><circle cx="90.8" cy="119.8" r="3.4" fill="url(#gf)"/><circle cx="54.0" cy="119.8" r="3.3" fill="url(#gf)"/><circle cx="12.3" cy="120.4" r="3.1" fill="url(#gf)"/><circle cx="69.5" cy="121.8" r="3.3" fill="url(#gf)"/><circle cx="118.6" cy="122.2" r="3.4" fill="url(#gf)"/><circle cx="23.5" cy="122.2" r="3.4" fill="url(#gf)"/><circle cx="124.3" cy="122.2" r="3.3" fill="url(#gf)"/><circle cx="75.5" cy="122.3" r="3.3" fill="url(#gf)"/><circle cx="109.5" cy="122.6" r="3.4" fill="url(#gf)"/><circle cx="43.0" cy="122.7" r="3.4" fill="url(#gf)"/><circle cx="85.9" cy="122.9" r="3.3" fill="url(#gf)"/><circle cx="31.0" cy="123.0" r="3.2" fill="url(#gf)"/><circle cx="60.2" cy="123.4" r="3.2" fill="url(#gf)"/><circle cx="36.3" cy="124.6" r="3.4" fill="url(#gf)"/><circle cx="94.4" cy="125.5" r="3.3" fill="url(#gf)"/><circle cx="16.2" cy="125.5" r="3.3" fill="url(#gf)"/><circle cx="80.6" cy="125.8" r="3.4" fill="url(#gf)"/><circle cx="101.0" cy="126.1" r="3.2" fill="url(#gf)"/><circle cx="88.5" cy="127.9" r="3.4" fill="url(#gf)"/><circle cx="106.8" cy="127.9" r="3.3" fill="url(#gf)"/><circle cx="119.7" cy="128.0" r="3.3" fill="url(#gf)"/><circle cx="52.1" cy="128.0" r="3.3" fill="url(#gf)"/><circle cx="40.5" cy="128.3" r="3.2" fill="url(#gf)"/><circle cx="73.6" cy="128.5" r="3.3" fill="url(#gf)"/><circle cx="112.3" cy="128.8" r="3.2" fill="url(#gf)"/><circle cx="26.6" cy="128.9" r="3.2" fill="url(#gf)"/><circle cx="46.3" cy="130.0" r="3.2" fill="url(#gf)"/><circle cx="124.9" cy="130.2" r="3.3" fill="url(#gf)"/><circle cx="57.7" cy="130.3" r="3.4" fill="url(#gf)"/><circle cx="67.7" cy="130.4" r="3.1" fill="url(#gf)"/><circle cx="17.7" cy="131.2" r="3.4" fill="url(#gf)"/><circle cx="96.4" cy="132.1" r="3.2" fill="url(#gf)"/><circle cx="34.1" cy="132.2" r="3.2" fill="url(#gf)"/><circle cx="79.7" cy="132.4" r="3.4" fill="url(#gf)"/><circle cx="88.3" cy="133.4" r="3.2" fill="url(#gf)"/><circle cx="109.3" cy="133.9" r="3.2" fill="url(#gf)"/><circle cx="72.6" cy="134.0" r="3.4" fill="url(#gf)"/><circle cx="23.7" cy="134.3" r="3.3" fill="url(#gf)"/><circle cx="12.9" cy="134.5" r="3.3" fill="url(#gf)"/><circle cx="103.3" cy="135.0" r="3.2" fill="url(#gf)"/><circle cx="55.9" cy="135.6" r="3.2" fill="url(#gf)"/><circle cx="41.9" cy="135.6" r="3.2" fill="url(#gf)"/><circle cx="115.1" cy="136.1" r="3.3" fill="url(#gf)"/><circle cx="28.9" cy="136.2" r="3.1" fill="url(#gf)"/><circle cx="62.2" cy="136.8" r="3.3" fill="url(#gf)"/><circle cx="19.2" cy="137.7" r="3.2" fill="url(#gf)"/><circle cx="78.0" cy="138.2" r="3.3" fill="url(#gf)"/><circle cx="93.6" cy="138.3" r="3.3" fill="url(#gf)"/><circle cx="46.8" cy="138.3" r="3.3" fill="url(#gf)"/><circle cx="122.7" cy="138.6" r="3.2" fill="url(#gf)"/><circle cx="37.4" cy="138.9" r="3.2" fill="url(#gf)"/><circle cx="105.1" cy="140.7" r="3.2" fill="url(#gf)"/><circle cx="83.5" cy="141.4" r="3.2" fill="url(#gf)"/><circle cx="117.5" cy="141.4" r="3.3" fill="url(#gf)"/><circle cx="54.6" cy="141.5" r="3.2" fill="url(#gf)"/><circle cx="29.1" cy="141.7" r="3.4" fill="url(#gf)"/><circle cx="98.4" cy="141.8" r="3.4" fill="url(#gf)"/><circle cx="110.6" cy="141.9" r="3.1" fill="url(#gf)"/><circle cx="15.9" cy="142.6" r="3.3" fill="url(#gf)"/><circle cx="68.8" cy="142.7" r="3.4" fill="url(#gf)"/><circle cx="42.3" cy="142.9" r="3.3" fill="url(#gf)"/><circle cx="89.2" cy="143.0" r="3.3" fill="url(#gf)"/><circle cx="48.8" cy="143.7" r="3.2" fill="url(#gf)"/><circle cx="77.2" cy="143.8" r="3.4" fill="url(#gf)"/><circle cx="63.2" cy="143.9" r="3.2" fill="url(#gf)"/><circle cx="124.3" cy="143.9" r="3.3" fill="url(#gf)"/><circle cx="23.5" cy="144.3" r="3.1" fill="url(#gf)"/><circle cx="34.9" cy="144.5" r="3.3" fill="url(#gf)"/><rect x="11.5" y="172.1" width="114.0" height="100.9" rx="3" fill="#c2cdbe"/><rect x="10.0" y="207.0" width="40.0" height="40.0" fill="#d2c8c0"/><rect x="92.0" y="207.0" width="35.0" height="40.0" fill="#d2c8c0"/><circle cx="59.1" cy="227.9" r="3.0" fill="url(#gb)"/><circle cx="38.3" cy="260.8" r="3.0" fill="url(#gb)"/><circle cx="118.4" cy="189.3" r="3.0" fill="url(#gb)"/><circle cx="44.3" cy="240.6" r="3.0" fill="url(#ob)"/><circle cx="32.0" cy="194.9" r="3.0" fill="url(#gb)"/><circle cx="62.0" cy="250.5" r="3.0" fill="url(#gb)"/><circle cx="101.6" cy="255.1" r="3.0" fill="url(#gb)"/><circle cx="118.4" cy="232.6" r="3.0" fill="url(#ob)"/><circle cx="112.1" cy="189.2" r="3.0" fill="url(#gb)"/><circle cx="57.4" cy="265.4" r="3.0" fill="url(#gb)"/><circle cx="16.2" cy="184.2" r="3.0" fill="url(#gb)"/><circle cx="100.3" cy="224.4" r="3.0" fill="url(#ob)"/><circle cx="114.1" cy="269.7" r="3.0" fill="url(#gb)"/><circle cx="106.9" cy="246.8" r="3.0" fill="url(#gb)"/><circle cx="53.6" cy="193.4" r="3.0" fill="url(#gb)"/><circle cx="110.2" cy="220.7" r="3.0" fill="url(#gb)"/><circle cx="117.8" cy="178.3" r="3.0" fill="url(#gb)"/><circle cx="59.9" cy="205.6" r="3.0" fill="url(#gb)"/><circle cx="83.4" cy="214.6" r="3.0" fill="url(#gb)"/><circle cx="118.4" cy="183.6" r="3.0" fill="url(#gb)"/><circle cx="92.1" cy="200.9" r="3.0" fill="url(#gb)"/><circle cx="110.0" cy="193.7" r="3.0" fill="url(#gb)"/><circle cx="17.8" cy="206.5" r="3.0" fill="url(#ob)"/><circle cx="68.5" cy="257.8" r="3.0" fill="url(#gb)"/><circle cx="111.7" cy="231.1" r="3.0" fill="url(#ob)"/><circle cx="116.7" cy="259.8" r="3.0" fill="url(#gb)"/><circle cx="108.7" cy="240.7" r="3.0" fill="url(#ob)"/><circle cx="80.6" cy="223.5" r="3.0" fill="url(#ob)"/><circle cx="112.6" cy="246.2" r="3.0" fill="url(#ob)"/><circle cx="51.6" cy="184.5" r="3.0" fill="url(#gb)"/><circle cx="75.0" cy="225.2" r="3.0" fill="url(#gb)"/><circle cx="42.5" cy="263.4" r="3.0" fill="url(#gb)"/><circle cx="16.3" cy="254.4" r="3.0" fill="url(#gb)"/><circle cx="95.3" cy="193.9" r="3.0" fill="url(#gb)"/><circle cx="86.4" cy="233.0" r="3.0" fill="url(#ob)"/><circle cx="87.4" cy="267.0" r="3.0" fill="url(#gb)"/><circle cx="92.3" cy="180.5" r="3.0" fill="url(#gb)"/><circle cx="39.6" cy="235.3" r="3.0" fill="url(#ob)"/><circle cx="49.9" cy="256.9" r="3.0" fill="url(#gb)"/><circle cx="25.5" cy="200.8" r="3.0" fill="url(#gb)"/><circle cx="54.3" cy="210.7" r="3.0" fill="url(#ob)"/><circle cx="103.8" cy="204.8" r="3.0" fill="url(#gb)"/><circle cx="44.6" cy="251.7" r="3.0" fill="url(#gb)"/><circle cx="62.7" cy="177.8" r="3.0" fill="url(#gb)"/><circle cx="69.9" cy="265.8" r="3.0" fill="url(#gb)"/><circle cx="124.0" cy="179.6" r="3.0" fill="url(#gb)"/><circle cx="102.2" cy="213.1" r="3.0" fill="url(#ob)"/><circle cx="68.1" cy="219.3" r="3.0" fill="url(#ob)"/><circle cx="124.0" cy="270.9" r="3.0" fill="url(#gb)"/><circle cx="33.1" cy="239.9" r="3.0" fill="url(#ob)"/><circle cx="45.0" cy="183.9" r="3.0" fill="url(#gb)"/><circle cx="86.5" cy="190.3" r="3.0" fill="url(#gb)"/><circle cx="74.6" cy="180.1" r="3.0" fill="url(#gb)"/><circle cx="15.2" cy="192.4" r="3.0" fill="url(#gb)"/><circle cx="42.4" cy="174.6" r="3.0" fill="url(#gb)"/><circle cx="76.7" cy="261.6" r="3.0" fill="url(#gb)"/><circle cx="93.0" cy="239.5" r="3.0" fill="url(#ob)"/><circle cx="104.0" cy="189.0" r="3.0" fill="url(#gb)"/><circle cx="55.3" cy="233.4" r="3.0" fill="url(#ob)"/><circle cx="28.5" cy="269.9" r="3.0" fill="url(#gb)"/><circle cx="51.4" cy="216.4" r="3.0" fill="url(#gb)"/><circle cx="101.2" cy="237.5" r="3.0" fill="url(#ob)"/><circle cx="93.0" cy="225.0" r="3.0" fill="url(#ob)"/><circle cx="31.1" cy="178.7" r="3.0" fill="url(#gb)"/><circle cx="49.0" cy="234.5" r="3.0" fill="url(#ob)"/><circle cx="93.9" cy="175.3" r="3.0" fill="url(#gb)"/><circle cx="20.5" cy="199.9" r="3.0" fill="url(#gb)"/><circle cx="120.8" cy="244.5" r="3.0" fill="url(#ob)"/><circle cx="73.6" cy="187.3" r="3.0" fill="url(#gb)"/><circle cx="39.4" cy="244.0" r="3.0" fill="url(#ob)"/><circle cx="31.8" cy="225.6" r="3.0" fill="url(#ob)"/><circle cx="109.7" cy="226.1" r="3.0" fill="url(#gb)"/><circle cx="17.4" cy="266.6" r="3.0" fill="url(#gb)"/><circle cx="75.9" cy="191.9" r="3.0" fill="url(#gb)"/><circle cx="68.2" cy="206.0" r="3.0" fill="url(#gb)"/><circle cx="93.5" cy="255.5" r="3.0" fill="url(#gb)"/><circle cx="44.3" cy="194.0" r="3.0" fill="url(#gb)"/><circle cx="90.1" cy="249.2" r="3.0" fill="url(#gb)"/><circle cx="12.9" cy="219.6" r="3.0" fill="url(#ob)"/><circle cx="108.3" cy="200.9" r="3.0" fill="url(#gb)"/><circle cx="40.4" cy="203.9" r="3.0" fill="url(#gb)"/><circle cx="20.7" cy="233.0" r="3.0" fill="url(#ob)"/><circle cx="26.1" cy="244.2" r="3.0" fill="url(#ob)"/><circle cx="23.4" cy="223.6" r="3.0" fill="url(#ob)"/><circle cx="58.1" cy="259.2" r="3.0" fill="url(#gb)"/><circle cx="116.0" cy="212.7" r="3.0" fill="url(#ob)"/><circle cx="100.6" cy="182.2" r="3.0" fill="url(#gb)"/><circle cx="58.2" cy="197.1" r="3.0" fill="url(#gb)"/><circle cx="31.6" cy="265.8" r="3.0" fill="url(#gb)"/><circle cx="97.1" cy="249.7" r="3.0" fill="url(#gb)"/><circle cx="61.9" cy="243.1" r="3.0" fill="url(#gb)"/><circle cx="78.8" cy="198.8" r="3.0" fill="url(#gb)"/><circle cx="93.4" cy="214.1" r="3.0" fill="url(#ob)"/><circle cx="58.6" cy="192.2" r="3.0" fill="url(#gb)"/><circle cx="25.4" cy="183.3" r="3.0" fill="url(#gb)"/><circle cx="66.2" cy="184.6" r="3.0" fill="url(#gb)"/><circle cx="89.4" cy="243.4" r="3.0" fill="url(#gb)"/><circle cx="73.1" cy="206.5" r="3.0" fill="url(#gb)"/><circle cx="53.0" cy="267.9" r="3.0" fill="url(#gb)"/><circle cx="116.0" cy="204.4" r="3.0" fill="url(#gb)"/><circle cx="113.0" cy="252.2" r="3.0" fill="url(#gb)"/><circle cx="72.4" cy="212.0" r="3.0" fill="url(#gb)"/><circle cx="14.3" cy="245.3" r="3.0" fill="url(#ob)"/><circle cx="114.8" cy="197.3" r="3.0" fill="url(#gb)"/><circle cx="74.9" cy="240.0" r="3.0" fill="url(#gb)"/><circle cx="72.5" cy="248.9" r="3.0" fill="url(#gb)"/><circle cx="32.2" cy="213.8" r="3.0" fill="url(#ob)"/><circle cx="78.6" cy="252.8" r="3.0" fill="url(#gb)"/><circle cx="118.3" cy="221.8" r="3.0" fill="url(#ob)"/><circle cx="34.2" cy="219.8" r="3.0" fill="url(#ob)"/><circle cx="47.6" cy="174.2" r="3.0" fill="url(#gb)"/><circle cx="39.9" cy="272.0" r="3.0" fill="url(#gb)"/><circle cx="68.3" cy="174.3" r="3.0" fill="url(#gb)"/><circle cx="50.9" cy="202.5" r="3.0" fill="url(#gb)"/><circle cx="47.4" cy="268.1" r="3.0" fill="url(#gb)"/><circle cx="88.5" cy="219.6" r="3.0" fill="url(#ob)"/><circle cx="84.4" cy="200.6" r="3.0" fill="url(#gb)"/><circle cx="22.4" cy="252.7" r="3.0" fill="url(#gb)"/><circle cx="123.4" cy="227.4" r="3.0" fill="url(#gb)"/><circle cx="124.2" cy="255.4" r="3.0" fill="url(#gb)"/><circle cx="100.1" cy="176.6" r="3.0" fill="url(#gb)"/><circle cx="80.0" cy="204.8" r="3.0" fill="url(#gb)"/><circle cx="80.5" cy="185.3" r="3.0" fill="url(#gb)"/><circle cx="63.8" cy="269.2" r="3.0" fill="url(#gb)"/><circle cx="44.8" cy="225.5" r="3.0" fill="url(#ob)"/><circle cx="75.5" cy="174.6" r="3.0" fill="url(#gb)"/><circle cx="86.2" cy="181.7" r="3.0" fill="url(#gb)"/><circle cx="82.6" cy="257.7" r="3.0" fill="url(#gb)"/><circle cx="38.6" cy="255.6" r="3.0" fill="url(#gb)"/><circle cx="33.8" cy="208.4" r="3.0" fill="url(#ob)"/><circle cx="31.5" cy="200.3" r="3.0" fill="url(#gb)"/><circle cx="21.0" cy="194.5" r="3.0" fill="url(#gb)"/><circle cx="90.2" cy="194.3" r="3.0" fill="url(#gb)"/><circle cx="57.5" cy="173.7" r="3.0" fill="url(#gb)"/><circle cx="35.6" cy="247.7" r="3.0" fill="url(#gb)"/><circle cx="38.9" cy="196.2" r="3.0" fill="url(#gb)"/><circle cx="108.5" cy="256.9" r="3.0" fill="url(#gb)"/><circle cx="92.3" cy="269.8" r="3.0" fill="url(#gb)"/><circle cx="26.6" cy="209.4" r="3.0" fill="url(#ob)"/><circle cx="15.8" cy="225.8" r="3.0" fill="url(#ob)"/><circle cx="124.3" cy="210.6" r="3.0" fill="url(#ob)"/><circle cx="106.3" cy="235.2" r="3.0" fill="url(#ob)"/><circle cx="106.3" cy="269.7" r="3.0" fill="url(#gb)"/><circle cx="21.4" cy="262.0" r="3.0" fill="url(#gb)"/><circle cx="77.9" cy="232.6" r="3.0" fill="url(#ob)"/><circle cx="82.5" cy="269.1" r="3.0" fill="url(#gb)"/><circle cx="52.9" cy="242.9" r="3.0" fill="url(#ob)"/><circle cx="92.3" cy="230.7" r="3.0" fill="url(#ob)"/><circle cx="67.5" cy="250.5" r="3.0" fill="url(#gb)"/><circle cx="122.9" cy="200.8" r="3.0" fill="url(#gb)"/><circle cx="84.6" cy="252.4" r="3.0" fill="url(#gb)"/><circle cx="66.0" cy="230.1" r="3.0" fill="url(#gb)"/><circle cx="104.6" cy="262.8" r="3.0" fill="url(#gb)"/><circle cx="27.7" cy="237.7" r="3.0" fill="url(#ob)"/><circle cx="44.5" cy="219.8" r="3.0" fill="url(#ob)"/><circle cx="47.3" cy="245.9" r="3.0" fill="url(#ob)"/><circle cx="111.4" cy="178.8" r="3.0" fill="url(#gb)"/><circle cx="80.3" cy="239.4" r="3.0" fill="url(#ob)"/><circle cx="53.2" cy="253.2" r="3.0" fill="url(#gb)"/><circle cx="64.4" cy="199.5" r="3.0" fill="url(#gb)"/><circle cx="34.7" cy="271.6" r="3.0" fill="url(#gb)"/><circle cx="81.1" cy="178.7" r="3.0" fill="url(#gb)"/><circle cx="33.5" cy="259.9" r="3.0" fill="url(#gb)"/><circle cx="12.7" cy="258.1" r="3.0" fill="url(#gb)"/><circle cx="120.5" cy="216.9" r="3.0" fill="url(#ob)"/><circle cx="77.9" cy="212.6" r="3.0" fill="url(#gb)"/><circle cx="26.9" cy="217.5" r="3.0" fill="url(#ob)"/><circle cx="80.5" cy="247.9" r="3.0" fill="url(#gb)"/><circle cx="46.6" cy="260.5" r="3.0" fill="url(#gb)"/><circle cx="99.0" cy="187.9" r="3.0" fill="url(#gb)"/><circle cx="76.1" cy="267.1" r="3.0" fill="url(#gb)"/><circle cx="114.3" cy="239.6" r="3.0" fill="url(#gb)"/><circle cx="61.4" cy="223.1" r="3.0" fill="url(#gb)"/><circle cx="105.7" cy="180.7" r="3.0" fill="url(#gb)"/><circle cx="100.4" cy="218.6" r="3.0" fill="url(#ob)"/><circle cx="31.4" cy="255.4" r="3.0" fill="url(#gb)"/><circle cx="41.5" cy="208.7" r="3.0" fill="url(#ob)"/><circle cx="21.1" cy="243.6" r="3.0" fill="url(#gb)"/><circle cx="100.0" cy="267.0" r="3.0" fill="url(#gb)"/><circle cx="40.2" cy="217.3" r="3.0" fill="url(#ob)"/><circle cx="102.2" cy="231.6" r="3.0" fill="url(#ob)"/><circle cx="57.3" cy="248.0" r="3.0" fill="url(#gb)"/><circle cx="13.5" cy="240.2" r="3.0" fill="url(#ob)"/><circle cx="94.1" cy="263.8" r="3.0" fill="url(#gb)"/><circle cx="74.0" cy="197.0" r="3.0" fill="url(#gb)"/><circle cx="89.9" cy="185.3" r="3.0" fill="url(#gb)"/><circle cx="35.7" cy="230.1" r="3.0" fill="url(#ob)"/><circle cx="13.9" cy="199.5" r="3.0" fill="url(#gb)"/><circle cx="12.7" cy="207.8" r="3.0" fill="url(#ob)"/><circle cx="63.4" cy="190.1" r="3.0" fill="url(#gb)"/><circle cx="51.2" cy="222.5" r="3.0" fill="url(#gb)"/><circle cx="123.6" cy="193.6" r="3.0" fill="url(#gb)"/><circle cx="37.0" cy="188.9" r="3.0" fill="url(#gb)"/><circle cx="14.5" cy="176.3" r="3.0" fill="url(#gb)"/><circle cx="92.1" cy="208.1" r="3.0" fill="url(#ob)"/><circle cx="45.8" cy="200.1" r="3.0" fill="url(#gb)"/><circle cx="72.0" cy="271.6" r="3.0" fill="url(#gb)"/><circle cx="88.1" cy="226.3" r="3.0" fill="url(#ob)"/><circle cx="37.3" cy="178.8" r="3.0" fill="url(#gb)"/><circle cx="116.0" cy="173.6" r="3.0" fill="url(#gb)"/><circle cx="24.3" cy="229.7" r="3.0" fill="url(#ob)"/><circle cx="42.2" cy="188.5" r="3.0" fill="url(#gb)"/><circle cx="65.7" cy="213.6" r="3.0" fill="url(#gb)"/><circle cx="67.5" cy="245.5" r="3.0" fill="url(#ob)"/><circle cx="34.6" cy="183.1" r="3.0" fill="url(#gb)"/><circle cx="99.5" cy="202.4" r="3.0" fill="url(#gb)"/><circle cx="106.4" cy="173.5" r="3.0" fill="url(#gb)"/><circle cx="69.4" cy="237.3" r="3.0" fill="url(#gb)"/><circle cx="97.6" cy="233.6" r="3.0" fill="url(#ob)"/><circle cx="20.6" cy="218.8" r="3.0" fill="url(#ob)"/><circle cx="69.0" cy="194.4" r="3.0" fill="url(#gb)"/><circle cx="73.0" cy="232.8" r="3.0" fill="url(#gb)"/><circle cx="21.5" cy="209.9" r="3.0" fill="url(#ob)"/><circle cx="54.2" cy="178.2" r="3.0" fill="url(#gb)"/><circle cx="101.4" cy="243.9" r="3.0" fill="url(#ob)"/><circle cx="21.6" cy="238.4" r="3.0" fill="url(#ob)"/><circle cx="88.6" cy="258.6" r="3.0" fill="url(#gb)"/><circle cx="96.3" cy="243.5" r="3.0" fill="url(#ob)"/><circle cx="107.6" cy="209.1" r="3.0" fill="url(#ob)"/><circle cx="25.9" cy="178.0" r="3.0" fill="url(#gb)"/><circle cx="59.4" cy="187.1" r="3.0" fill="url(#gb)"/><circle cx="28.2" cy="191.6" r="3.0" fill="url(#gb)"/><circle cx="68.7" cy="225.7" r="3.0" fill="url(#gb)"/><circle cx="119.1" cy="270.6" r="3.0" fill="url(#gb)"/><circle cx="121.6" cy="206.2" r="3.0" fill="url(#gb)"/><circle cx="82.6" cy="228.9" r="3.0" fill="url(#gb)"/><circle cx="59.0" cy="238.4" r="3.0" fill="url(#gb)"/><circle cx="46.1" cy="211.3" r="3.0" fill="url(#ob)"/><circle cx="30.5" cy="185.9" r="3.0" fill="url(#gb)"/><circle cx="122.4" cy="237.4" r="3.0" fill="url(#ob)"/><circle cx="88.0" cy="176.7" r="3.0" fill="url(#gb)"/><circle cx="21.5" cy="187.5" r="3.0" fill="url(#gb)"/><circle cx="14.3" cy="234.0" r="3.0" fill="url(#ob)"/><circle cx="74.4" cy="255.9" r="3.0" fill="url(#gb)"/><circle cx="105.1" cy="220.0" r="3.0" fill="url(#ob)"/><circle cx="64.4" cy="238.1" r="3.0" fill="url(#gb)"/><circle cx="117.6" cy="248.2" r="3.0" fill="url(#gb)"/><circle cx="21.7" cy="174.6" r="3.0" fill="url(#gb)"/><circle cx="98.7" cy="208.8" r="3.0" fill="url(#ob)"/><circle cx="104.7" cy="195.6" r="3.0" fill="url(#gb)"/><circle cx="121.8" cy="173.2" r="3.0" fill="url(#gb)"/><circle cx="59.1" cy="212.3" r="3.0" fill="url(#ob)"/><circle cx="50.5" cy="228.8" r="3.0" fill="url(#gb)"/><circle cx="99.3" cy="261.7" r="3.0" fill="url(#gb)"/><circle cx="82.4" cy="195.1" r="3.0" fill="url(#gb)"/><circle cx="33.0" cy="173.1" r="3.0" fill="url(#gb)"/><circle cx="20.6" cy="270.4" r="3.0" fill="url(#gb)"/><circle cx="107.2" cy="214.6" r="3.0" fill="url(#ob)"/><circle cx="123.8" cy="221.5" r="3.0" fill="url(#ob)"/><circle cx="47.5" cy="179.4" r="3.0" fill="url(#gb)"/><circle cx="25.8" cy="259.0" r="3.0" fill="url(#gb)"/><circle cx="83.8" cy="173.7" r="3.0" fill="url(#gb)"/><circle cx="19.3" cy="248.3" r="3.0" fill="url(#gb)"/><circle cx="119.0" cy="255.4" r="3.0" fill="url(#gb)"/><circle cx="26.8" cy="250.0" r="3.0" fill="url(#gb)"/><circle cx="13.1" cy="270.9" r="3.0" fill="url(#gb)"/><circle cx="44.2" cy="230.6" r="3.0" fill="url(#ob)"/><circle cx="86.2" cy="205.2" r="3.0" fill="url(#gb)"/><circle cx="58.2" cy="181.2" r="3.0" fill="url(#gb)"/><circle cx="87.1" cy="272.0" r="3.0" fill="url(#gb)"/><circle cx="16.4" cy="214.4" r="3.0" fill="url(#ob)"/><circle cx="37.8" cy="225.5" r="3.0" fill="url(#ob)"/><circle cx="50.3" cy="197.5" r="3.0" fill="url(#gb)"/><circle cx="58.7" cy="270.6" r="3.0" fill="url(#gb)"/><circle cx="116.5" cy="227.0" r="3.0" fill="url(#gb)"/><circle cx="74.2" cy="218.5" r="3.0" fill="url(#gb)"/><circle cx="63.1" cy="259.5" r="3.0" fill="url(#ob)"/><circle cx="61.1" cy="233.8" r="3.0" fill="url(#gb)"/><circle cx="121.7" cy="263.5" r="3.0" fill="url(#gb)"/><circle cx="112.4" cy="208.1" r="3.0" fill="url(#ob)"/><circle cx="88.1" cy="211.6" r="3.0" fill="url(#ob)"/><circle cx="47.4" cy="189.7" r="3.0" fill="url(#gb)"/><circle cx="123.5" cy="250.1" r="3.0" fill="url(#gb)"/><circle cx="46.5" cy="205.4" r="3.0" fill="url(#gb)"/><circle cx="109.8" cy="266.2" r="3.0" fill="url(#gb)"/><circle cx="53.1" cy="262.5" r="3.0" fill="url(#gb)"/><circle cx="81.7" cy="263.1" r="3.0" fill="url(#gb)"/><circle cx="82.9" cy="209.6" r="3.0" fill="url(#gb)"/><circle cx="119.9" cy="196.8" r="3.0" fill="url(#gb)"/><circle cx="58.2" cy="218.7" r="3.0" fill="url(#ob)"/><circle cx="36.9" cy="266.4" r="3.0" fill="url(#gb)"/><circle cx="105.6" cy="251.7" r="3.0" fill="url(#gb)"/><circle cx="26.7" cy="264.7" r="3.0" fill="url(#gb)"/><circle cx="100.0" cy="197.5" r="3.0" fill="url(#gb)"/><circle cx="30.4" cy="231.2" r="3.0" fill="url(#ob)"/><circle cx="20.3" cy="180.7" r="3.0" fill="url(#gb)"/><circle cx="23.4" cy="205.2" r="3.0" fill="url(#gb)"/><circle cx="124.4" cy="187.7" r="3.0" fill="url(#gb)"/><circle cx="83.8" cy="243.3" r="3.0" fill="url(#gb)"/><circle cx="94.8" cy="185.0" r="3.0" fill="url(#gb)"/><circle cx="79.8" cy="218.1" r="3.0" fill="url(#gb)"/><circle cx="93.8" cy="219.1" r="3.0" fill="url(#ob)"/><circle cx="69.3" cy="200.7" r="3.0" fill="url(#gb)"/><circle cx="110.9" cy="261.4" r="3.0" fill="url(#gb)"/><circle cx="30.9" cy="245.8" r="3.0" fill="url(#ob)"/><circle cx="99.5" cy="272.0" r="3.0" fill="url(#gb)"/><circle cx="35.4" cy="203.5" r="3.0" fill="url(#gb)"/><circle cx="109.9" cy="183.6" r="3.0" fill="url(#gb)"/><circle cx="16.4" cy="261.6" r="3.0" fill="url(#gb)"/><circle cx="43.5" cy="256.5" r="3.0" fill="url(#gb)"/><circle cx="56.2" cy="201.9" r="3.0" fill="url(#gb)"/><circle cx="12.7" cy="251.0" r="3.0" fill="url(#gb)"/><circle cx="86.3" cy="239.0" r="3.0" fill="url(#ob)"/><circle cx="68.5" cy="179.8" r="3.0" fill="url(#gb)"/><circle cx="114.6" cy="217.5" r="3.0" fill="url(#ob)"/><circle cx="37.8" cy="213.0" r="3.0" fill="url(#ob)"/><circle cx="27.6" cy="173.1" r="3.0" fill="url(#gb)"/><circle cx="63.8" cy="209.0" r="3.0" fill="url(#ob)"/><circle cx="63.1" cy="217.9" r="3.0" fill="url(#gb)"/><circle cx="124.4" cy="232.8" r="3.0" fill="url(#ob)"/><circle cx="104.8" cy="227.5" r="3.0" fill="url(#ob)"/><circle cx="34.4" cy="234.9" r="3.0" fill="url(#ob)"/><circle cx="97.1" cy="228.2" r="3.0" fill="url(#ob)"/><circle cx="64.9" cy="264.3" r="3.0" fill="url(#gb)"/><circle cx="40.1" cy="183.3" r="3.0" fill="url(#gb)"/><circle cx="115.9" cy="264.9" r="3.0" fill="url(#gb)"/><circle cx="47.0" cy="172.0" r="3.1" fill="url(#gf)"/><circle cx="104.9" cy="172.1" r="3.2" fill="url(#gf)"/><circle cx="67.3" cy="172.2" r="3.1" fill="url(#gf)"/><circle cx="61.4" cy="172.2" r="3.2" fill="url(#gf)"/><circle cx="116.7" cy="172.9" r="3.2" fill="url(#gf)"/><circle cx="76.3" cy="173.1" r="3.3" fill="url(#gf)"/><circle cx="26.2" cy="173.3" r="3.2" fill="url(#gf)"/><circle cx="83.7" cy="173.4" r="3.2" fill="url(#gf)"/><circle cx="39.9" cy="173.4" r="3.2" fill="url(#gf)"/><circle cx="93.9" cy="173.8" r="3.4" fill="url(#gf)"/><circle cx="111.2" cy="174.1" r="3.4" fill="url(#gf)"/><circle cx="16.0" cy="174.1" r="3.2" fill="url(#gf)"/><circle cx="55.7" cy="175.3" r="3.2" fill="url(#gf)"/><circle cx="32.0" cy="175.6" r="3.2" fill="url(#gf)"/><circle cx="99.0" cy="176.0" r="3.3" fill="url(#gf)"/><circle cx="123.0" cy="176.6" r="3.1" fill="url(#gf)"/><circle cx="50.2" cy="177.2" r="3.2" fill="url(#gf)"/><circle cx="67.7" cy="177.8" r="3.3" fill="url(#gf)"/><circle cx="74.0" cy="178.2" r="3.3" fill="url(#gf)"/><circle cx="115.4" cy="178.4" r="3.1" fill="url(#gf)"/><circle cx="24.8" cy="178.7" r="3.2" fill="url(#gf)"/><circle cx="41.6" cy="178.8" r="3.4" fill="url(#gf)"/><circle cx="85.8" cy="179.2" r="3.3" fill="url(#gf)"/><circle cx="103.6" cy="179.3" r="3.2" fill="url(#gf)"/><circle cx="80.1" cy="179.9" r="3.2" fill="url(#gf)"/><circle cx="19.2" cy="181.0" r="3.3" fill="url(#gf)"/><circle cx="33.3" cy="181.0" r="3.3" fill="url(#gf)"/><circle cx="110.0" cy="181.1" r="3.2" fill="url(#gf)"/><circle cx="11.6" cy="181.2" r="3.3" fill="url(#gf)"/><circle cx="98.6" cy="182.1" r="3.4" fill="url(#gf)"/><circle cx="58.5" cy="182.2" r="3.1" fill="url(#gf)"/><circle cx="91.7" cy="182.3" r="3.1" fill="url(#gf)"/><circle cx="27.8" cy="183.8" r="3.2" fill="url(#gf)"/><circle cx="123.5" cy="183.8" r="3.3" fill="url(#gf)"/><circle cx="64.6" cy="183.9" r="3.1" fill="url(#gf)"/><circle cx="76.7" cy="184.3" r="3.4" fill="url(#gf)"/><circle cx="117.4" cy="184.8" r="3.3" fill="url(#gf)"/><circle cx="42.2" cy="185.0" r="3.4" fill="url(#gf)"/><circle cx="87.6" cy="185.9" r="3.3" fill="url(#gf)"/><circle cx="54.9" cy="186.5" r="3.4" fill="url(#gf)"/><circle cx="17.6" cy="186.5" r="3.2" fill="url(#gf)"/><circle cx="111.6" cy="186.7" r="3.1" fill="url(#gf)"/><circle cx="71.7" cy="186.7" r="3.2" fill="url(#gf)"/><circle cx="81.6" cy="186.9" r="3.2" fill="url(#gf)"/><circle cx="48.3" cy="187.1" r="3.3" fill="url(#gf)"/><circle cx="11.3" cy="187.2" r="3.2" fill="url(#gf)"/><circle cx="100.4" cy="187.3" r="3.2" fill="url(#gf)"/><circle cx="106.2" cy="188.2" r="3.3" fill="url(#gf)"/><circle cx="23.8" cy="188.2" r="3.3" fill="url(#gf)"/><circle cx="35.2" cy="188.3" r="3.2" fill="url(#gf)"/><circle cx="94.2" cy="189.1" r="3.1" fill="url(#gf)"/><circle cx="29.8" cy="189.5" r="3.3" fill="url(#gf)"/><circle cx="61.6" cy="190.4" r="3.4" fill="url(#gf)"/><circle cx="68.0" cy="190.8" r="3.1" fill="url(#gf)"/><circle cx="89.4" cy="191.9" r="3.3" fill="url(#gf)"/><circle cx="39.3" cy="192.0" r="3.2" fill="url(#gf)"/><circle cx="113.6" cy="192.1" r="3.3" fill="url(#gf)"/><circle cx="50.6" cy="192.3" r="3.3" fill="url(#gf)"/><circle cx="78.7" cy="192.6" r="3.2" fill="url(#gf)"/><circle cx="18.1" cy="192.7" r="3.2" fill="url(#gf)"/><circle cx="121.7" cy="192.9" r="3.2" fill="url(#gf)"/><circle cx="25.4" cy="194.5" r="3.3" fill="url(#gf)"/><circle cx="55.7" cy="194.5" r="3.1" fill="url(#gf)"/><circle cx="11.7" cy="195.2" r="3.3" fill="url(#gf)"/><circle cx="94.0" cy="195.3" r="3.3" fill="url(#gf)"/><circle cx="31.4" cy="195.4" r="3.4" fill="url(#gf)"/><circle cx="99.7" cy="195.5" r="3.3" fill="url(#gf)"/><circle cx="63.7" cy="195.8" r="3.3" fill="url(#gf)"/><circle cx="71.6" cy="196.0" r="3.2" fill="url(#gf)"/><circle cx="83.8" cy="196.3" r="3.3" fill="url(#gf)"/><circle cx="43.5" cy="196.4" r="3.2" fill="url(#gf)"/><circle cx="105.0" cy="198.1" r="3.1" fill="url(#gf)"/><circle cx="125.4" cy="198.1" r="3.4" fill="url(#gf)"/><circle cx="119.1" cy="198.2" r="3.4" fill="url(#gf)"/><circle cx="78.7" cy="198.5" r="3.2" fill="url(#gf)"/><circle cx="50.5" cy="198.7" r="3.2" fill="url(#gf)"/><circle cx="19.8" cy="198.8" r="3.3" fill="url(#gf)"/><circle cx="14.4" cy="200.2" r="3.4" fill="url(#gf)"/><circle cx="28.0" cy="200.6" r="3.1" fill="url(#gf)"/><circle cx="94.8" cy="201.0" r="3.2" fill="url(#gf)"/><circle cx="109.5" cy="201.2" r="3.2" fill="url(#gf)"/><circle cx="88.6" cy="201.3" r="3.3" fill="url(#gf)"/><circle cx="40.1" cy="201.6" r="3.3" fill="url(#gf)"/><circle cx="63.1" cy="202.2" r="3.2" fill="url(#gf)"/><circle cx="45.7" cy="202.3" r="3.3" fill="url(#gf)"/><circle cx="74.7" cy="202.7" r="3.2" fill="url(#gf)"/><circle cx="122.3" cy="203.5" r="3.3" fill="url(#gf)"/><circle cx="33.7" cy="204.1" r="3.1" fill="url(#gf)"/><circle cx="69.2" cy="204.2" r="3.2" fill="url(#gf)"/><circle cx="116.6" cy="204.7" r="3.2" fill="url(#gf)"/><circle cx="18.2" cy="204.9" r="3.2" fill="url(#gf)"/><circle cx="55.8" cy="204.9" r="3.2" fill="url(#gf)"/><circle cx="80.8" cy="205.1" r="3.1" fill="url(#gf)"/><circle cx="100.2" cy="206.2" r="3.2" fill="url(#gf)"/><circle cx="40.1" cy="207.1" r="3.4" fill="url(#of)"/><circle cx="93.2" cy="207.7" r="3.5" fill="url(#of)"/><circle cx="106.7" cy="207.8" r="3.6" fill="url(#of)"/><circle cx="46.7" cy="208.0" r="3.5" fill="url(#of)"/><circle cx="22.9" cy="208.7" r="3.7" fill="url(#of)"/><circle cx="120.6" cy="208.8" r="3.5" fill="url(#of)"/><circle cx="72.6" cy="208.9" r="3.3" fill="url(#gf)"/><circle cx="84.4" cy="209.6" r="3.6" fill="url(#of)"/><circle cx="17.5" cy="210.4" r="3.4" fill="url(#of)"/><circle cx="11.4" cy="210.5" r="3.5" fill="url(#of)"/><circle cx="115.0" cy="210.6" r="3.5" fill="url(#of)"/><circle cx="62.8" cy="211.0" r="3.2" fill="url(#gf)"/><circle cx="125.7" cy="211.5" r="3.6" fill="url(#of)"/><circle cx="28.0" cy="211.7" r="3.4" fill="url(#of)"/><circle cx="77.3" cy="212.1" r="3.7" fill="url(#of)"/><circle cx="56.2" cy="212.3" r="3.5" fill="url(#of)"/><circle cx="67.9" cy="212.9" r="3.6" fill="url(#of)"/><circle cx="48.8" cy="213.6" r="3.6" fill="url(#of)"/><circle cx="97.1" cy="213.7" r="3.4" fill="url(#of)"/><circle cx="43.1" cy="214.0" r="3.6" fill="url(#of)"/><circle cx="36.8" cy="214.1" r="3.7" fill="url(#of)"/><circle cx="110.7" cy="214.8" r="3.7" fill="url(#of)"/><circle cx="104.5" cy="214.8" r="3.5" fill="url(#of)"/><circle cx="89.2" cy="215.2" r="3.1" fill="url(#gf)"/><circle cx="15.5" cy="215.8" r="3.5" fill="url(#of)"/><circle cx="31.4" cy="216.3" r="3.5" fill="url(#of)"/><circle cx="25.2" cy="216.7" r="3.4" fill="url(#of)"/><circle cx="60.2" cy="216.7" r="3.4" fill="url(#gf)"/><circle cx="120.8" cy="217.2" r="3.3" fill="url(#gf)"/><circle cx="83.2" cy="217.8" r="3.3" fill="url(#gf)"/><circle cx="77.6" cy="218.1" r="3.7" fill="url(#of)"/><circle cx="51.8" cy="218.3" r="3.4" fill="url(#of)"/><circle cx="45.9" cy="218.7" r="3.6" fill="url(#of)"/><circle cx="70.4" cy="219.0" r="3.2" fill="url(#gf)"/><circle cx="113.8" cy="219.8" r="3.5" fill="url(#of)"/><circle cx="97.1" cy="220.3" r="3.5" fill="url(#of)"/><circle cx="107.5" cy="220.5" r="3.7" fill="url(#of)"/><circle cx="64.6" cy="220.9" r="3.6" fill="url(#of)"/><circle cx="38.0" cy="221.0" r="3.6" fill="url(#of)"/><circle cx="56.9" cy="221.3" r="3.4" fill="url(#gf)"/><circle cx="28.7" cy="221.4" r="3.6" fill="url(#of)"/><circle cx="11.7" cy="221.7" r="3.4" fill="url(#of)"/><circle cx="125.5" cy="222.2" r="3.6" fill="url(#of)"/><circle cx="91.3" cy="222.4" r="3.3" fill="url(#gf)"/><circle cx="81.4" cy="223.1" r="3.5" fill="url(#of)"/><circle cx="17.9" cy="223.3" r="3.4" fill="url(#of)"/><circle cx="75.8" cy="223.4" r="3.3" fill="url(#gf)"/><circle cx="118.3" cy="223.5" r="3.6" fill="url(#of)"/><circle cx="48.6" cy="224.4" r="3.5" fill="url(#of)"/><circle cx="101.5" cy="224.9" r="3.4" fill="url(#of)"/><circle cx="43.0" cy="225.1" r="3.7" fill="url(#of)"/><circle cx="68.7" cy="225.8" r="3.6" fill="url(#of)"/><circle cx="34.6" cy="226.0" r="3.1" fill="url(#gf)"/><circle cx="62.4" cy="226.2" r="3.4" fill="url(#gf)"/><circle cx="122.6" cy="227.3" r="3.7" fill="url(#of)"/><circle cx="85.2" cy="227.5" r="3.3" fill="url(#gf)"/><circle cx="12.9" cy="227.8" r="3.6" fill="url(#of)"/><circle cx="111.2" cy="228.1" r="3.7" fill="url(#of)"/><circle cx="23.4" cy="228.7" r="3.5" fill="url(#of)"/><circle cx="79.7" cy="228.9" r="3.6" fill="url(#of)"/><circle cx="117.2" cy="229.1" r="3.5" fill="url(#of)"/><circle cx="73.4" cy="229.1" r="3.3" fill="url(#gf)"/><circle cx="53.5" cy="229.3" r="3.4" fill="url(#of)"/><circle cx="105.6" cy="229.3" r="3.7" fill="url(#of)"/><circle cx="98.8" cy="230.0" r="3.3" fill="url(#gf)"/><circle cx="39.2" cy="230.1" r="3.5" fill="url(#of)"/><circle cx="31.9" cy="230.8" r="3.6" fill="url(#of)"/><circle cx="59.3" cy="230.9" r="3.4" fill="url(#gf)"/><circle cx="47.2" cy="231.2" r="3.5" fill="url(#of)"/><circle cx="18.8" cy="231.7" r="3.6" fill="url(#of)"/><circle cx="65.2" cy="231.8" r="3.3" fill="url(#gf)"/><circle cx="90.9" cy="232.1" r="3.7" fill="url(#of)"/><circle cx="120.9" cy="234.4" r="3.3" fill="url(#gf)"/><circle cx="70.3" cy="234.5" r="3.4" fill="url(#of)"/><circle cx="79.5" cy="234.7" r="3.7" fill="url(#of)"/><circle cx="51.9" cy="235.3" r="3.4" fill="url(#gf)"/><circle cx="113.4" cy="235.5" r="3.5" fill="url(#of)"/><circle cx="11.6" cy="235.7" r="3.7" fill="url(#of)"/><circle cx="40.9" cy="236.0" r="3.4" fill="url(#of)"/><circle cx="86.1" cy="236.1" r="3.5" fill="url(#of)"/><circle cx="23.1" cy="236.2" r="3.4" fill="url(#of)"/><circle cx="103.9" cy="236.2" r="3.4" fill="url(#of)"/><circle cx="60.3" cy="236.5" r="3.5" fill="url(#of)"/><circle cx="33.7" cy="236.5" r="3.6" fill="url(#of)"/><circle cx="46.2" cy="237.5" r="3.6" fill="url(#of)"/><circle cx="125.5" cy="237.5" r="3.7" fill="url(#of)"/><circle cx="97.2" cy="238.5" r="3.5" fill="url(#of)"/><circle cx="28.6" cy="238.7" r="3.5" fill="url(#of)"/><circle cx="65.5" cy="239.2" r="3.5" fill="url(#of)"/><circle cx="15.7" cy="239.6" r="3.7" fill="url(#of)"/><circle cx="55.4" cy="239.7" r="3.7" fill="url(#of)"/><circle cx="83.0" cy="240.9" r="3.3" fill="url(#gf)"/><circle cx="71.1" cy="241.0" r="3.3" fill="url(#gf)"/><circle cx="120.4" cy="241.9" r="3.4" fill="url(#of)"/><circle cx="40.9" cy="242.1" r="3.7" fill="url(#of)"/><circle cx="89.4" cy="242.2" r="3.7" fill="url(#of)"/><circle cx="34.4" cy="242.2" r="3.5" fill="url(#of)"/><circle cx="60.6" cy="242.3" r="3.3" fill="url(#gf)"/><circle cx="110.1" cy="242.4" r="3.5" fill="url(#of)"/><circle cx="102.2" cy="242.7" r="3.6" fill="url(#of)"/><circle cx="76.6" cy="242.9" r="3.1" fill="url(#gf)"/><circle cx="51.0" cy="243.3" r="3.6" fill="url(#of)"/><circle cx="28.9" cy="244.5" r="3.4" fill="url(#of)"/><circle cx="20.9" cy="244.6" r="3.3" fill="url(#gf)"/><circle cx="65.4" cy="245.0" r="3.4" fill="url(#of)"/><circle cx="11.6" cy="245.0" r="3.5" fill="url(#of)"/><circle cx="116.1" cy="245.4" r="3.6" fill="url(#of)"/><circle cx="85.2" cy="246.3" r="3.4" fill="url(#gf)"/><circle cx="45.3" cy="246.8" r="3.5" fill="url(#of)"/><circle cx="125.2" cy="246.9" r="3.5" fill="url(#of)"/><circle cx="106.3" cy="247.1" r="3.5" fill="url(#of)"/><circle cx="95.8" cy="247.2" r="3.4" fill="url(#of)"/><circle cx="59.1" cy="248.6" r="3.3" fill="url(#gf)"/><circle cx="79.0" cy="248.7" r="3.1" fill="url(#gf)"/><circle cx="36.6" cy="249.0" r="3.2" fill="url(#gf)"/><circle cx="90.0" cy="249.1" r="3.2" fill="url(#gf)"/><circle cx="52.5" cy="249.4" r="3.2" fill="url(#gf)"/><circle cx="119.6" cy="249.6" r="3.4" fill="url(#gf)"/><circle cx="18.0" cy="249.7" r="3.2" fill="url(#gf)"/><circle cx="30.4" cy="250.1" r="3.2" fill="url(#gf)"/><circle cx="72.2" cy="250.8" r="3.2" fill="url(#gf)"/><circle cx="114.2" cy="250.9" r="3.4" fill="url(#gf)"/><circle cx="23.4" cy="251.6" r="3.2" fill="url(#gf)"/><circle cx="11.7" cy="252.9" r="3.2" fill="url(#gf)"/><circle cx="86.0" cy="252.9" r="3.3" fill="url(#gf)"/><circle cx="102.5" cy="253.2" r="3.1" fill="url(#gf)"/><circle cx="108.9" cy="253.6" r="3.1" fill="url(#gf)"/><circle cx="95.3" cy="254.2" r="3.3" fill="url(#gf)"/><circle cx="76.9" cy="254.5" r="3.3" fill="url(#gf)"/><circle cx="46.6" cy="254.6" r="3.4" fill="url(#gf)"/><circle cx="33.9" cy="254.6" r="3.4" fill="url(#gf)"/><circle cx="39.9" cy="254.7" r="3.2" fill="url(#gf)"/><circle cx="65.6" cy="254.9" r="3.2" fill="url(#gf)"/><circle cx="52.1" cy="255.2" r="3.1" fill="url(#gf)"/><circle cx="119.1" cy="255.6" r="3.2" fill="url(#gf)"/><circle cx="28.0" cy="255.7" r="3.2" fill="url(#gf)"/><circle cx="59.9" cy="255.7" r="3.3" fill="url(#gf)"/><circle cx="124.6" cy="256.3" r="3.3" fill="url(#gf)"/><circle cx="81.8" cy="258.0" r="3.2" fill="url(#gf)"/><circle cx="20.8" cy="258.7" r="3.4" fill="url(#gf)"/><circle cx="105.1" cy="259.5" r="3.1" fill="url(#gf)"/><circle cx="56.0" cy="260.2" r="3.2" fill="url(#gf)"/><circle cx="32.5" cy="260.2" r="3.1" fill="url(#gf)"/><circle cx="14.2" cy="260.5" r="3.4" fill="url(#gf)"/><circle cx="71.4" cy="260.6" r="3.2" fill="url(#gf)"/><circle cx="46.6" cy="260.6" r="3.4" fill="url(#gf)"/><circle cx="91.3" cy="260.7" r="3.3" fill="url(#gf)"/><circle cx="61.5" cy="261.4" r="3.2" fill="url(#gf)"/><circle cx="121.2" cy="261.4" r="3.2" fill="url(#gf)"/><circle cx="114.1" cy="261.4" r="3.3" fill="url(#gf)"/><circle cx="85.1" cy="262.7" r="3.2" fill="url(#gf)"/><circle cx="37.7" cy="262.9" r="3.3" fill="url(#gf)"/><circle cx="96.8" cy="263.0" r="3.3" fill="url(#gf)"/><circle cx="78.0" cy="263.5" r="3.3" fill="url(#gf)"/><circle cx="26.3" cy="264.1" r="3.3" fill="url(#gf)"/><circle cx="102.2" cy="264.2" r="3.1" fill="url(#gf)"/><circle cx="20.2" cy="264.2" r="3.3" fill="url(#gf)"/><circle cx="50.1" cy="265.0" r="3.2" fill="url(#gf)"/><circle cx="92.1" cy="266.3" r="3.4" fill="url(#gf)"/><circle cx="117.5" cy="266.5" r="3.2" fill="url(#gf)"/><circle cx="44.0" cy="266.7" r="3.1" fill="url(#gf)"/><circle cx="123.2" cy="266.8" r="3.2" fill="url(#gf)"/><circle cx="30.9" cy="267.1" r="3.2" fill="url(#gf)"/><circle cx="66.0" cy="267.3" r="3.4" fill="url(#gf)"/><circle cx="107.4" cy="267.6" r="3.4" fill="url(#gf)"/><circle cx="57.2" cy="267.9" r="3.3" fill="url(#gf)"/><circle cx="83.1" cy="267.9" r="3.3" fill="url(#gf)"/><circle cx="13.9" cy="268.3" r="3.1" fill="url(#gf)"/><circle cx="36.4" cy="268.4" r="3.3" fill="url(#gf)"/><circle cx="101.5" cy="270.4" r="3.2" fill="url(#gf)"/><circle cx="96.0" cy="270.8" r="3.3" fill="url(#gf)"/><circle cx="71.7" cy="271.1" r="3.2" fill="url(#gf)"/><circle cx="48.5" cy="271.2" r="3.2" fill="url(#gf)"/><circle cx="90.0" cy="271.5" r="3.2" fill="url(#gf)"/><circle cx="25.3" cy="271.7" r="3.1" fill="url(#gf)"/><circle cx="18.6" cy="271.7" r="3.3" fill="url(#gf)"/><circle cx="41.9" cy="271.8" r="3.4" fill="url(#gf)"/><circle cx="77.7" cy="272.0" r="3.3" fill="url(#gf)"/><circle cx="112.4" cy="272.0" r="3.4" fill="url(#gf)"/><circle cx="118.5" cy="272.0" r="3.3" fill="url(#gf)"/><circle cx="61.7" cy="272.5" r="3.3" fill="url(#gf)"/><circle cx="32.6" cy="272.7" r="3.2" fill="url(#gf)"/><circle cx="54.0" cy="273.1" r="3.2" fill="url(#gf)"/><circle cx="124.6" cy="273.1" r="3.3" fill="url(#gf)"/><circle cx="84.7" cy="273.2" r="3.4" fill="url(#gf)"/><circle cx="62.5" cy="257.4" r="3.5" fill="url(#of)"/><path d="M9.8,38.9 H49.2 Q53.3,38.9 53.3,43 L54.3,77.2 Q54.4,81 58.2,81 H80.4 Q84,81 84.1,77.2 L85.4,43 Q85.5,38.9 89.6,38.9 H127.6" fill="none" stroke="#3c2c00" stroke-width="3.0" stroke-opacity="0.55"/><path d="M9.8,38.9 H49.2 Q53.3,38.9 53.3,43 L54.3,77.2 Q54.4,81 58.2,81 H80.4 Q84,81 84.1,77.2 L85.4,43 Q85.5,38.9 89.6,38.9 H127.6" fill="none" stroke="#f0c024" stroke-width="2.0"/><path d="M9.80,169.00 L10.78,169.00 L11.77,169.00 L12.75,169.00 L13.73,169.00 L14.72,169.00 L15.70,169.00 L16.68,169.00 L17.67,169.00 L18.65,169.00 L19.63,169.00 L20.62,169.00 L21.60,169.00 L22.58,169.00 L23.57,169.00 L24.55,169.00 L25.53,169.00 L26.52,169.00 L27.50,169.00 L28.48,169.00 L29.47,169.00 L30.45,169.00 L31.43,169.00 L32.42,169.00 L33.40,169.00 L34.38,169.00 L35.37,169.00 L36.35,169.00 L37.33,169.00 L38.32,169.00 L39.30,169.01 L40.28,169.02 L41.27,169.05 L42.25,169.12 L43.23,169.26 L44.22,169.52 L45.20,169.96 L46.18,170.65 L47.17,171.67 L48.15,173.10 L49.13,174.96 L50.12,177.28 L51.10,180.01 L52.08,183.08 L53.07,186.37 L54.05,189.76 L55.03,193.11 L56.02,196.31 L57.00,199.26 L57.98,201.87 L58.97,204.12 L59.95,205.98 L60.93,207.47 L61.92,208.63 L62.90,209.48 L63.88,210.09 L64.87,210.50 L65.85,210.75 L66.83,210.89 L67.82,210.96 L68.80,210.99 L69.78,211.00 L70.77,211.00 L71.75,211.00 L72.73,211.00 L73.72,210.98 L74.70,210.93 L75.68,210.83 L76.67,210.63 L77.65,210.30 L78.63,209.80 L79.62,209.07 L80.60,208.06 L81.58,206.73 L82.57,205.05 L83.55,202.98 L84.53,200.54 L85.52,197.75 L86.50,194.66 L87.48,191.36 L88.47,187.97 L89.45,184.62 L90.43,181.43 L91.42,178.53 L92.40,176.01 L93.38,173.93 L94.37,172.30 L95.35,171.09 L96.33,170.25 L97.32,169.70 L98.30,169.37 L99.28,169.18 L100.27,169.08 L101.25,169.03 L102.23,169.01 L103.22,169.00 L104.20,169.00 L105.18,169.00 L106.17,169.00 L107.15,169.00 L108.13,169.00 L109.12,169.00 L110.10,169.00 L111.08,169.00 L112.07,169.00 L113.05,169.00 L114.03,169.00 L115.02,169.00 L116.00,169.00 L116.98,169.00 L117.97,169.00 L118.95,169.00 L119.93,169.00 L120.92,169.00 L121.90,169.00 L122.88,169.00 L123.87,169.00 L124.85,169.00 L125.83,169.00 L126.82,169.00 L127.80,169.00" fill="none" stroke="#3c2c00" stroke-width="3.0" stroke-opacity="0.55"/><path d="M9.80,169.00 L10.78,169.00 L11.77,169.00 L12.75,169.00 L13.73,169.00 L14.72,169.00 L15.70,169.00 L16.68,169.00 L17.67,169.00 L18.65,169.00 L19.63,169.00 L20.62,169.00 L21.60,169.00 L22.58,169.00 L23.57,169.00 L24.55,169.00 L25.53,169.00 L26.52,169.00 L27.50,169.00 L28.48,169.00 L29.47,169.00 L30.45,169.00 L31.43,169.00 L32.42,169.00 L33.40,169.00 L34.38,169.00 L35.37,169.00 L36.35,169.00 L37.33,169.00 L38.32,169.00 L39.30,169.01 L40.28,169.02 L41.27,169.05 L42.25,169.12 L43.23,169.26 L44.22,169.52 L45.20,169.96 L46.18,170.65 L47.17,171.67 L48.15,173.10 L49.13,174.96 L50.12,177.28 L51.10,180.01 L52.08,183.08 L53.07,186.37 L54.05,189.76 L55.03,193.11 L56.02,196.31 L57.00,199.26 L57.98,201.87 L58.97,204.12 L59.95,205.98 L60.93,207.47 L61.92,208.63 L62.90,209.48 L63.88,210.09 L64.87,210.50 L65.85,210.75 L66.83,210.89 L67.82,210.96 L68.80,210.99 L69.78,211.00 L70.77,211.00 L71.75,211.00 L72.73,211.00 L73.72,210.98 L74.70,210.93 L75.68,210.83 L76.67,210.63 L77.65,210.30 L78.63,209.80 L79.62,209.07 L80.60,208.06 L81.58,206.73 L82.57,205.05 L83.55,202.98 L84.53,200.54 L85.52,197.75 L86.50,194.66 L87.48,191.36 L88.47,187.97 L89.45,184.62 L90.43,181.43 L91.42,178.53 L92.40,176.01 L93.38,173.93 L94.37,172.30 L95.35,171.09 L96.33,170.25 L97.32,169.70 L98.30,169.37 L99.28,169.18 L100.27,169.08 L101.25,169.03 L102.23,169.01 L103.22,169.00 L104.20,169.00 L105.18,169.00 L106.17,169.00 L107.15,169.00 L108.13,169.00 L109.12,169.00 L110.10,169.00 L111.08,169.00 L112.07,169.00 L113.05,169.00 L114.03,169.00 L115.02,169.00 L116.00,169.00 L116.98,169.00 L117.97,169.00 L118.95,169.00 L119.93,169.00 L120.92,169.00 L121.90,169.00 L122.88,169.00 L123.87,169.00 L124.85,169.00 L125.83,169.00 L126.82,169.00 L127.80,169.00" fill="none" stroke="#f0c024" stroke-width="2.0"/><polygon points="49.30,47.30 43.90,47.30 43.90,43.70 39.10,48.90 43.90,54.10 43.90,50.50 49.30,50.50" fill="#f01418"/><polygon points="89.00,47.30 94.40,47.30 94.40,43.70 99.20,48.90 94.40,54.10 94.40,50.50 89.00,50.50" fill="#f01418"/><polygon points="55.60,71.00 61.00,71.00 61.00,67.40 65.80,72.60 61.00,77.80 61.00,74.20 55.60,74.20" fill="#f01418"/><polygon points="82.10,71.00 76.70,71.00 76.70,67.40 71.90,72.60 76.70,77.80 76.70,74.20 82.10,74.20" fill="#f01418"/><polygon points="38.00,177.20 43.40,177.20 43.40,173.60 48.20,178.80 43.40,184.00 43.40,180.40 38.00,180.40" fill="#f01418"/><polygon points="106.30,177.20 100.90,177.20 100.90,173.60 96.10,178.80 100.90,184.00 100.90,180.40 106.30,180.40" fill="#f01418"/><polygon points="68.10,197.40 62.70,197.40 62.70,193.80 57.90,199.00 62.70,204.20 62.70,200.60 68.10,200.60" fill="#f01418"/><polygon points="73.80,197.40 79.20,197.40 79.20,193.80 84.00,199.00 79.20,204.20 79.20,200.60 73.80,200.60" fill="#f01418"/><g transform="translate(11.0,32.7) scale(0.8,1.0)"><text x="0" y="0" font-family="Liberation Sans, sans-serif" font-size="19" font-style="italic" font-weight="bold" fill="#f0c024" stroke="#5a4200" stroke-width="0.5" stroke-opacity="0.8">n</text></g><g transform="translate(20.4,37.3) scale(1.0,0.95)"><text x="0" y="0" font-family="Liberation Sans, sans-serif" font-size="11.5" font-style="italic" font-weight="bold" fill="#f0c024" stroke="#5a4200" stroke-width="0.45" stroke-opacity="0.8">D</text></g><g transform="translate(11.0,162.7) scale(0.8,1.0)"><text x="0" y="0" font-family="Liberation Sans, sans-serif" font-size="19" font-style="italic" font-weight="bold" fill="#f0c024" stroke="#5a4200" stroke-width="0.5" stroke-opacity="0.8">n</text></g><g transform="translate(20.4,167.3) scale(1.0,0.95)"><text x="0" y="0" font-family="Liberation Sans, sans-serif" font-size="11.5" font-style="italic" font-weight="bold" fill="#f0c024" stroke="#5a4200" stroke-width="0.45" stroke-opacity="0.8">D</text></g><text x="3.6" y="12.6" font-family="Liberation Sans, sans-serif" font-size="17.5" fill="#000">a)</text><text x="188.7" y="12.6" font-family="Liberation Sans, sans-serif" font-size="17.5" fill="#000">b)</text><text x="399.2" y="12.6" font-family="Liberation Sans, sans-serif" font-size="17.5" fill="#000">c)</text><path d="M227.5,244.00 h2.6 M376.5,244.00 h-2.6 M227.5,217.71 h1.5 M376.5,217.71 h-1.5 M227.5,202.32 h1.5 M376.5,202.32 h-1.5 M227.5,191.41 h1.5 M376.5,191.41 h-1.5 M227.5,182.94 h1.5 M376.5,182.94 h-1.5 M227.5,176.03 h1.5 M376.5,176.03 h-1.5 M227.5,170.18 h1.5 M376.5,170.18 h-1.5 M227.5,165.12 h1.5 M376.5,165.12 h-1.5 M227.5,160.65 h1.5 M376.5,160.65 h-1.5 M227.5,156.65 h2.6 M376.5,156.65 h-2.6 M227.5,130.36 h1.5 M376.5,130.36 h-1.5 M227.5,114.97 h1.5 M376.5,114.97 h-1.5 M227.5,104.06 h1.5 M376.5,104.06 h-1.5 M227.5,95.59 h1.5 M376.5,95.59 h-1.5 M227.5,88.68 h1.5 M376.5,88.68 h-1.5 M227.5,82.83 h1.5 M376.5,82.83 h-1.5 M227.5,77.77 h1.5 M376.5,77.77 h-1.5 M227.5,73.30 h1.5 M376.5,73.30 h-1.5 M227.5,69.30 h2.6 M376.5,69.30 h-2.6 M227.5,43.01 h1.5 M376.5,43.01 h-1.5 M227.5,27.62 h1.5 M376.5,27.62 h-1.5 M227.5,16.71 h1.5 M376.5,16.71 h-1.5 M227.5,8.24 h1.5 M376.5,8.24 h-1.5 M227.5,1.33 h1.5 M376.5,1.33 h-1.5 M259.43,244.0 v-2.6 M259.43,0.5 v2.6 M302.00,244.0 v-2.6 M302.00,0.5 v2.6 M344.57,244.0 v-2.6 M344.57,0.5 v2.6" stroke="#262626" stroke-width="0.9" fill="none"/><clipPath id="bclip"><rect x="227.5" y="0.5" width="149.0" height="243.5"/></clipPath><path d="M226.50,26.74 L227.00,27.72 L227.50,28.70 L228.00,29.69 L228.50,30.67 L229.00,31.66 L229.50,32.64 L230.00,33.64 L230.50,34.65 L231.00,35.68 L231.50,36.72 L232.00,37.79 L232.50,38.88 L233.00,40.00 L233.50,41.15 L234.00,42.33 L234.50,43.54 L235.00,44.78 L235.50,46.03 L236.00,47.31 L236.50,48.60 L237.00,49.91 L237.50,51.23 L238.00,52.57 L238.50,53.91 L239.00,55.26 L239.50,56.61 L240.00,57.97 L240.50,59.32 L241.00,60.68 L241.50,62.03 L242.00,63.39 L242.50,64.76 L243.00,66.14 L243.50,67.52 L244.00,68.92 L244.50,70.32 L245.00,71.74 L245.50,73.18 L246.00,74.63 L246.50,76.09 L247.00,77.58 L247.50,79.09 L248.00,80.62 L248.50,82.18 L249.00,83.78 L249.50,85.41 L250.00,87.06 L250.50,88.73 L251.00,90.41 L251.50,92.10 L252.00,93.80 L252.50,95.49 L253.00,97.17 L253.50,98.84 L254.00,100.49 L254.50,102.14 L255.00,103.78 L255.50,105.41 L256.00,107.05 L256.50,108.68 L257.00,110.31 L257.50,111.94 L258.00,113.57 L258.50,115.20 L259.00,116.83 L259.50,118.46 L260.00,120.10 L260.50,121.74 L261.00,123.38 L261.50,125.03 L262.00,126.68 L262.50,128.34 L263.00,130.00 L263.50,131.67 L264.00,133.33 L264.50,135.00 L265.00,136.66 L265.50,138.33 L266.00,140.00 L266.50,141.67 L267.00,143.35 L267.50,145.03 L268.00,146.72 L268.50,148.42 L269.00,150.12 L269.50,151.83 L270.00,153.55 L270.50,155.28 L271.00,157.02 L271.50,158.77 L272.00,160.53 L272.50,162.32 L273.00,164.14 L273.50,165.98 L274.00,167.83 L274.50,169.70 L275.00,171.58 L275.50,173.47 L276.00,175.36 L276.50,177.24 L277.00,179.12 L277.50,180.98 L278.00,182.83 L278.50,184.67 L279.00,186.47 L279.50,188.25 L280.00,190.00 L280.50,191.73 L281.00,193.48 L281.50,195.22 L282.00,196.96 L282.50,198.69 L283.00,200.42 L283.50,202.12 L284.00,203.80 L284.50,205.46 L285.00,207.09 L285.50,208.68 L286.00,210.23 L286.50,211.73 L287.00,213.19 L287.50,214.59 L288.00,215.93 L288.50,217.22 L289.00,218.45 L289.50,219.64 L290.00,220.80 L290.50,221.94 L291.00,223.06 L291.50,224.19 L292.00,225.32 L292.50,226.46 L293.00,227.61 L293.50,228.75 L294.00,229.89 L294.50,231.02 L295.00,232.13 L295.50,233.23 L296.00,234.32 L296.50,235.38 L297.00,236.43 L297.50,237.56 L298.00,238.67 L298.50,239.70 L299.00,240.53 L299.50,241.11 L300.00,241.62 L300.50,242.08 L301.00,242.45 L301.50,242.71 L302.00,242.80 L302.50,242.71 L303.00,242.45 L303.50,242.08 L304.00,241.62 L304.50,241.11 L305.00,240.53 L305.50,239.70 L306.00,238.67 L306.50,237.56 L307.00,236.43 L307.50,235.38 L308.00,234.32 L308.50,233.23 L309.00,232.13 L309.50,231.02 L310.00,229.89 L310.50,228.75 L311.00,227.61 L311.50,226.46 L312.00,225.32 L312.50,224.19 L313.00,223.06 L313.50,221.94 L314.00,220.80 L314.50,219.64 L315.00,218.45 L315.50,217.22 L316.00,215.93 L316.50,214.59 L317.00,213.19 L317.50,211.73 L318.00,210.23 L318.50,208.68 L319.00,207.09 L319.50,205.46 L320.00,203.80 L320.50,202.12 L321.00,200.42 L321.50,198.69 L322.00,196.96 L322.50,195.22 L323.00,193.48 L323.50,191.73 L324.00,190.00 L324.50,188.25 L325.00,186.47 L325.50,184.67 L326.00,182.83 L326.50,180.98 L327.00,179.12 L327.50,177.24 L328.00,175.36 L328.50,173.47 L329.00,171.58 L329.50,169.70 L330.00,167.83 L330.50,165.98 L331.00,164.14 L331.50,162.32 L332.00,160.53 L332.50,158.77 L333.00,157.02 L333.50,155.28 L334.00,153.55 L334.50,151.83 L335.00,150.12 L335.50,148.42 L336.00,146.72 L336.50,145.03 L337.00,143.35 L337.50,141.67 L338.00,140.00 L338.50,138.33 L339.00,136.66 L339.50,135.00 L340.00,133.33 L340.50,131.67 L341.00,130.00 L341.50,128.34 L342.00,126.68 L342.50,125.03 L343.00,123.38 L343.50,121.74 L344.00,120.10 L344.50,118.46 L345.00,116.83 L345.50,115.20 L346.00,113.57 L346.50,111.94 L347.00,110.31 L347.50,108.68 L348.00,107.05 L348.50,105.41 L349.00,103.78 L349.50,102.14 L350.00,100.49 L350.50,98.84 L351.00,97.17 L351.50,95.49 L352.00,93.80 L352.50,92.10 L353.00,90.41 L353.50,88.73 L354.00,87.06 L354.50,85.41 L355.00,83.78 L355.50,82.18 L356.00,80.62 L356.50,79.09 L357.00,77.58 L357.50,76.09 L358.00,74.63 L358.50,73.18 L359.00,71.74 L359.50,70.32 L360.00,68.92 L360.50,67.52 L361.00,66.14 L361.50,64.76 L362.00,63.39 L362.50,62.03 L363.00,60.68 L363.50,59.32 L364.00,57.97 L364.50,56.61 L365.00,55.26 L365.50,53.91 L366.00,52.57 L366.50,51.23 L367.00,49.91 L367.50,48.60 L368.00,47.31 L368.50,46.03 L369.00,44.78 L369.50,43.54 L370.00,42.33 L370.50,41.15 L371.00,40.00 L371.50,38.88 L372.00,37.79 L372.50,36.72 L373.00,35.68 L373.50,34.65 L374.00,33.64 L374.50,32.64 L375.00,31.66 L375.50,30.67 L376.00,29.69 L376.50,28.70 L377.00,27.72 L377.50,26.74" fill="none" stroke="#0072bd" stroke-width="2.1" clip-path="url(#bclip)"/><path d="M226.50,25.59 L227.00,26.55 L227.50,27.52 L228.00,28.50 L228.50,29.49 L229.00,30.47 L229.50,31.46 L230.00,32.45 L230.50,33.44 L231.00,34.45 L231.50,35.47 L232.00,36.51 L232.50,37.57 L233.00,38.66 L233.50,39.77 L234.00,40.92 L234.50,42.09 L235.00,43.30 L235.50,44.53 L236.00,45.78 L236.50,47.05 L237.00,48.34 L237.50,49.65 L238.00,50.97 L238.50,52.30 L239.00,53.64 L239.50,54.99 L240.00,56.34 L240.50,57.70 L241.00,59.05 L241.50,60.41 L242.00,61.76 L242.50,63.12 L243.00,64.49 L243.50,65.86 L244.00,67.24 L244.50,68.64 L245.00,70.04 L245.50,71.46 L246.00,72.89 L246.50,74.33 L247.00,75.80 L247.50,77.28 L248.00,78.78 L248.50,80.31 L249.00,81.86 L249.50,83.46 L250.00,85.08 L250.50,86.73 L251.00,88.39 L251.50,90.08 L252.00,91.77 L252.50,93.46 L253.00,95.15 L253.50,96.84 L254.00,98.51 L254.50,100.16 L255.00,101.81 L255.50,103.45 L256.00,105.09 L256.50,106.72 L257.00,108.35 L257.50,109.98 L258.00,111.61 L258.50,113.24 L259.00,114.87 L259.50,116.50 L260.00,118.14 L260.50,119.77 L261.00,121.41 L261.50,123.05 L262.00,124.70 L262.50,126.35 L263.00,128.00 L263.50,129.67 L264.00,131.33 L264.50,133.00 L265.00,134.66 L265.50,136.33 L266.00,138.00 L266.50,139.67 L267.00,141.34 L267.50,143.01 L268.00,144.70 L268.50,146.38 L269.00,148.08 L269.50,149.78 L270.00,151.48 L270.50,153.20 L271.00,154.93 L271.50,156.66 L272.00,158.41 L272.50,160.17 L273.00,161.95 L273.50,163.76 L274.00,165.59 L274.50,167.44 L275.00,169.30 L275.50,171.18 L276.00,173.06 L276.50,174.93 L277.00,176.81 L277.50,178.68 L278.00,180.54 L278.50,182.38 L279.00,184.20 L279.50,185.99 L280.00,187.76 L280.50,189.48 L281.00,191.19 L281.50,192.90 L282.00,194.61 L282.50,196.31 L283.00,198.00 L283.50,199.67 L284.00,201.32 L284.50,202.95 L285.00,204.54 L285.50,206.09 L286.00,207.61 L286.50,209.07 L287.00,210.48 L287.50,211.84 L288.00,213.14 L288.50,214.36 L289.00,215.52 L289.50,216.62 L290.00,217.66 L290.50,218.67 L291.00,219.64 L291.50,220.60 L292.00,221.54 L292.50,222.48 L293.00,223.43 L293.50,224.38 L294.00,225.32 L294.50,226.26 L295.00,227.20 L295.50,228.12 L296.00,229.03 L296.50,229.92 L297.00,230.80 L297.50,231.67 L298.00,232.62 L298.50,233.59 L299.00,234.49 L299.50,235.24 L300.00,235.74 L300.50,236.15 L301.00,236.54 L301.50,236.87 L302.00,237.11 L302.50,237.21 L303.00,237.14 L303.50,236.93 L304.00,236.60 L304.50,236.20 L305.00,235.76 L305.50,235.30 L306.00,234.62 L306.50,233.75 L307.00,232.77 L307.50,231.79 L308.00,230.88 L308.50,229.99 L309.00,229.09 L309.50,228.17 L310.00,227.25 L310.50,226.32 L311.00,225.38 L311.50,224.44 L312.00,223.49 L312.50,222.54 L313.00,221.61 L313.50,220.68 L314.00,219.74 L314.50,218.79 L315.00,217.81 L315.50,216.79 L316.00,215.73 L316.50,214.61 L317.00,213.42 L317.50,212.17 L318.00,210.85 L318.50,209.47 L319.00,208.04 L319.50,206.56 L320.00,205.03 L320.50,203.47 L321.00,201.86 L321.50,200.23 L322.00,198.58 L322.50,196.91 L323.00,195.22 L323.50,193.52 L324.00,191.82 L324.50,190.12 L325.00,188.41 L325.50,186.66 L326.00,184.89 L326.50,183.08 L327.00,181.25 L327.50,179.40 L328.00,177.54 L328.50,175.67 L329.00,173.79 L329.50,171.92 L330.00,170.04 L330.50,168.18 L331.00,166.32 L331.50,164.48 L332.00,162.67 L332.50,160.87 L333.00,159.11 L333.50,157.36 L334.00,155.62 L334.50,153.89 L335.00,152.17 L335.50,150.46 L336.00,148.75 L336.50,147.06 L337.00,145.37 L337.50,143.69 L338.00,142.01 L338.50,140.33 L339.00,138.66 L339.50,137.00 L340.00,135.33 L340.50,133.66 L341.00,132.00 L341.50,130.33 L342.00,128.67 L342.50,127.01 L343.00,125.36 L343.50,123.71 L344.00,122.07 L344.50,120.43 L345.00,118.79 L345.50,117.16 L346.00,115.52 L346.50,113.89 L347.00,112.26 L347.50,110.63 L348.00,109.00 L348.50,107.37 L349.00,105.74 L349.50,104.10 L350.00,102.47 L350.50,100.82 L351.00,99.17 L351.50,97.51 L352.00,95.83 L352.50,94.14 L353.00,92.44 L353.50,90.75 L354.00,89.07 L354.50,87.39 L355.00,85.74 L355.50,84.10 L356.00,82.50 L356.50,80.93 L357.00,79.39 L357.50,77.88 L358.00,76.39 L358.50,74.92 L359.00,73.46 L359.50,72.03 L360.00,70.60 L360.50,69.20 L361.00,67.80 L361.50,66.41 L362.00,65.04 L362.50,63.67 L363.00,62.30 L363.50,60.95 L364.00,59.59 L364.50,58.24 L365.00,56.88 L365.50,55.53 L366.00,54.18 L366.50,52.84 L367.00,51.50 L367.50,50.17 L368.00,48.86 L368.50,47.56 L369.00,46.28 L369.50,45.02 L370.00,43.79 L370.50,42.57 L371.00,41.39 L371.50,40.23 L372.00,39.10 L372.50,38.00 L373.00,36.93 L373.50,35.89 L374.00,34.86 L374.50,33.84 L375.00,32.84 L375.50,31.85 L376.00,30.87 L376.50,29.88 L377.00,28.90 L377.50,27.91" fill="none" stroke="#d95319" stroke-width="2.1" stroke-dasharray="8.5,8.7" stroke-dashoffset="14.35" clip-path="url(#bclip)"/><path d="M227.5,1.5 V244.25 H376.5 V1.5" fill="none" stroke="#262626" stroke-width="1"/><rect x="227.0" y="0" width="150.0" height="1.7" fill="#9c9c9c"/><line x1="247.8" y1="19.8" x2="291.1" y2="19.8" stroke="#0072bd" stroke-width="2.1"/><line x1="247.8" y1="43" x2="291.1" y2="43" stroke="#d95319" stroke-width="2.1" stroke-dasharray="8.8,8.3"/><text x="294.6" y="26.8" font-family="Liberation Sans, sans-serif" font-size="17" fill="#000">Average</text><text x="294.2" y="49.4" font-family="Liberation Sans, sans-serif" font-size="17" fill="#000">Perturbed</text><text x="207.1" y="78.8" font-family="Liberation Sans, sans-serif" font-size="17" fill="#000" text-anchor="end">10</text><text x="220.0" y="70.6" font-family="Liberation Sans, sans-serif" font-size="13.5" fill="#000" text-anchor="end">-6</text><text x="207.1" y="166.2" font-family="Liberation Sans, sans-serif" font-size="17" fill="#000" text-anchor="end">10</text><text x="220.0" y="158.0" font-family="Liberation Sans, sans-serif" font-size="13.5" fill="#000" text-anchor="end">-7</text><text x="207.1" y="253.5" font-family="Liberation Sans, sans-serif" font-size="17" fill="#000" text-anchor="end">10</text><text x="220.0" y="245.3" font-family="Liberation Sans, sans-serif" font-size="13.5" fill="#000" text-anchor="end">-8</text><text x="259.43" y="268.6" font-family="Liberation Sans, sans-serif" font-size="17" fill="#000" text-anchor="middle">-0.2</text><text x="302.00" y="268.6" font-family="Liberation Sans, sans-serif" font-size="17" fill="#000" text-anchor="middle">0</text><text x="344.57" y="268.6" font-family="Liberation Sans, sans-serif" font-size="17" fill="#000" text-anchor="middle">0.2</text><text x="301.75" y="293.4" font-family="Liberation Sans, sans-serif" font-size="19" fill="#000" text-anchor="middle">Vertical Coordinate (nm)</text><g transform="translate(172.6,162) rotate(-90)" font-family="Liberation Sans, sans-serif" fill="#000"><text x="5.50" y="0.00" font-size="19" font-style="italic" text-anchor="middle">n</text><text x="17.10" y="6.30" font-size="13" font-style="italic" text-anchor="middle">D</text><text x="36.80" y="0.00" font-size="18" text-anchor="middle">(</text><text x="45.25" y="0.00" font-size="18" text-anchor="middle">n</text><text x="56.65" y="0.00" font-size="18" text-anchor="middle">m</text><text x="68.15" y="-9.80" font-size="12.5" text-anchor="middle">-</text><text x="74.85" y="-9.80" font-size="12.5" text-anchor="middle">1</text><text x="81.75" y="0.00" font-size="18" text-anchor="middle">)</text></g><path d="M459.50,244.0 v-1.5 M459.50,0.5 v1.5 M476.43,244.0 v-1.5 M476.43,0.5 v1.5 M489.56,244.0 v-1.5 M489.56,0.5 v1.5 M500.29,244.0 v-1.5 M500.29,0.5 v1.5 M509.36,244.0 v-1.5 M509.36,0.5 v1.5 M517.22,244.0 v-1.5 M517.22,0.5 v1.5 M524.15,244.0 v-1.5 M524.15,0.5 v1.5 M530.35,244.0 v-2.6 M530.35,0.5 v2.6 M571.14,244.0 v-1.5 M571.14,0.5 v1.5 M595.00,244.0 v-1.5 M595.00,0.5 v1.5 M611.93,244.0 v-1.5 M611.93,0.5 v1.5 M625.06,244.0 v-1.5 M625.06,0.5 v1.5 M635.79,244.0 v-1.5 M635.79,0.5 v1.5 M644.86,244.0 v-1.5 M644.86,0.5 v1.5 M652.72,244.0 v-1.5 M652.72,0.5 v1.5 M659.65,244.0 v-1.5 M659.65,0.5 v1.5 M665.85,244.0 v-2.6 M665.85,0.5 v2.6 M706.64,244.0 v-1.5 M706.64,0.5 v1.5 M730.50,244.0 v-1.5 M730.50,0.5 v1.5 M459.5,244.00 h2.6 M730.5,244.00 h-2.6 M459.5,225.67 h1.5 M730.5,225.67 h-1.5 M459.5,214.96 h1.5 M730.5,214.96 h-1.5 M459.5,207.35 h1.5 M730.5,207.35 h-1.5 M459.5,201.45 h1.5 M730.5,201.45 h-1.5 M459.5,196.63 h1.5 M730.5,196.63 h-1.5 M459.5,192.55 h1.5 M730.5,192.55 h-1.5 M459.5,189.02 h1.5 M730.5,189.02 h-1.5 M459.5,185.91 h1.5 M730.5,185.91 h-1.5 M459.5,183.12 h2.6 M730.5,183.12 h-2.6 M459.5,164.80 h1.5 M730.5,164.80 h-1.5 M459.5,154.08 h1.5 M730.5,154.08 h-1.5 M459.5,146.47 h1.5 M730.5,146.47 h-1.5 M459.5,140.58 h1.5 M730.5,140.58 h-1.5 M459.5,135.76 h1.5 M730.5,135.76 h-1.5 M459.5,131.68 h1.5 M730.5,131.68 h-1.5 M459.5,128.15 h1.5 M730.5,128.15 h-1.5 M459.5,125.04 h1.5 M730.5,125.04 h-1.5 M459.5,122.25 h2.6 M730.5,122.25 h-2.6 M459.5,103.92 h1.5 M730.5,103.92 h-1.5 M459.5,93.21 h1.5 M730.5,93.21 h-1.5 M459.5,85.60 h1.5 M730.5,85.60 h-1.5 M459.5,79.70 h1.5 M730.5,79.70 h-1.5 M459.5,74.88 h1.5 M730.5,74.88 h-1.5 M459.5,70.80 h1.5 M730.5,70.80 h-1.5 M459.5,67.27 h1.5 M730.5,67.27 h-1.5 M459.5,64.16 h1.5 M730.5,64.16 h-1.5 M459.5,61.38 h2.6 M730.5,61.38 h-2.6 M459.5,43.05 h1.5 M730.5,43.05 h-1.5 M459.5,32.33 h1.5 M730.5,32.33 h-1.5 M459.5,24.72 h1.5 M730.5,24.72 h-1.5 M459.5,18.83 h1.5 M730.5,18.83 h-1.5 M459.5,14.01 h1.5 M730.5,14.01 h-1.5 M459.5,9.93 h1.5 M730.5,9.93 h-1.5 M459.5,6.40 h1.5 M730.5,6.40 h-1.5 M459.5,3.29 h1.5 M730.5,3.29 h-1.5" stroke="#262626" stroke-width="0.9" fill="none"/><clipPath id="cclip"><rect x="459.5" y="0.5" width="271.0" height="243.5"/></clipPath><path d="M507,118 L515,118 L515,130 L512,150 L500,152 L496,141 L498,128 Z" fill="#9fd080" fill-opacity="0.3"/><g fill="none" stroke="#84c05c" stroke-width="1.05" clip-path="url(#cclip)"><rect x="640.0" y="16.5" width="6" height="6"/><rect x="652.2" y="8.2" width="6" height="6"/><rect x="653.2" y="13.2" width="6" height="6"/><rect x="661.1" y="11.4" width="6" height="6"/><rect x="662.3" y="3.0" width="6" height="6"/><rect x="658.1" y="6.0" width="6" height="6"/><rect x="655.5" y="7.0" width="6" height="6"/><rect x="617.9" y="4.6" width="6" height="6"/><rect x="619.5" y="11.2" width="6" height="6"/><rect x="608.6" y="15.2" width="6" height="6"/><rect x="615.6" y="18.5" width="6" height="6"/><rect x="621.2" y="18.8" width="6" height="6"/><rect x="626.2" y="19.8" width="6" height="6"/><rect x="633.4" y="12.5" width="6" height="6"/><rect x="639.0" y="15.9" width="6" height="6"/><rect x="611.0" y="25.8" width="6" height="6"/><rect x="616.5" y="28.4" width="6" height="6"/><rect x="620.5" y="23.5" width="6" height="6"/><rect x="607.0" y="34.5" width="6" height="6"/><rect x="598.3" y="22.2" width="6" height="6"/><rect x="588.0" y="22.4" width="6" height="6"/><rect x="594.5" y="27.6" width="6" height="6"/><rect x="598.9" y="29.2" width="6" height="6"/><rect x="578.0" y="32.0" width="6" height="6"/><rect x="589.9" y="35.8" width="6" height="6"/><rect x="605.8" y="36.0" width="6" height="6"/><rect x="582.4" y="42.1" width="6" height="6"/><rect x="579.4" y="46.1" width="6" height="6"/><rect x="593.7" y="48.1" width="6" height="6"/><rect x="586.9" y="43.1" width="6" height="6"/><rect x="606.3" y="36.1" width="6" height="6"/><rect x="610.9" y="27.0" width="6" height="6"/><rect x="597.6" y="28.6" width="6" height="6"/><rect x="587.5" y="22.8" width="6" height="6"/><rect x="585.5" y="43.0" width="6" height="6"/><rect x="614.0" y="28.0" width="6" height="6"/><rect x="565.2" y="58.3" width="6" height="6"/><rect x="562.2" y="59.6" width="6" height="6"/><rect x="569.5" y="59.3" width="6" height="6"/><rect x="553.3" y="63.4" width="6" height="6"/><rect x="549.9" y="66.3" width="6" height="6"/><rect x="536.8" y="75.0" width="6" height="6"/><rect x="535.0" y="79.7" width="6" height="6"/><rect x="543.9" y="72.9" width="6" height="6"/><rect x="545.5" y="67.0" width="6" height="6"/><rect x="538.7" y="76.8" width="6" height="6"/><rect x="531.4" y="84.1" width="6" height="6"/><rect x="533.7" y="82.1" width="6" height="6"/><rect x="523.5" y="88.1" width="6" height="6"/><rect x="527.7" y="93.4" width="6" height="6"/><rect x="536.3" y="93.0" width="6" height="6"/><rect x="528.0" y="95.0" width="6" height="6"/><rect x="530.3" y="95.5" width="6" height="6"/><rect x="527.0" y="94.5" width="6" height="6"/><rect x="516.8" y="97.4" width="6" height="6"/><rect x="518.2" y="99.8" width="6" height="6"/><rect x="512.9" y="106.3" width="6" height="6"/><rect x="514.7" y="108.5" width="6" height="6"/><rect x="518.8" y="108.1" width="6" height="6"/><rect x="512.2" y="111.0" width="6" height="6"/><rect x="512.6" y="110.0" width="6" height="6"/><rect x="518.0" y="110.0" width="6" height="6"/><rect x="509.8" y="148.6" width="6" height="6"/><rect x="508.8" y="153.4" width="6" height="6"/><rect x="475.2" y="157.9" width="6" height="6"/><rect x="489.3" y="155.9" width="6" height="6"/><rect x="496.8" y="164.0" width="6" height="6"/><rect x="496.8" y="168.7" width="6" height="6"/><rect x="499.9" y="167.5" width="6" height="6"/><rect x="493.4" y="179.4" width="6" height="6"/><rect x="500.4" y="178.6" width="6" height="6"/><rect x="506.3" y="176.4" width="6" height="6"/><rect x="495.4" y="182.1" width="6" height="6"/><rect x="503.3" y="182.6" width="6" height="6"/><rect x="498.4" y="192.5" width="6" height="6"/><rect x="503.0" y="198.2" width="6" height="6"/><rect x="494.0" y="202.4" width="6" height="6"/><rect x="500.2" y="207.0" width="6" height="6"/><rect x="501.4" y="209.7" width="6" height="6"/><rect x="494.0" y="219.3" width="6" height="6"/><rect x="504.6" y="117.1" width="6" height="6"/><rect x="507.6" y="117.2" width="6" height="6"/><rect x="502.2" y="119.1" width="6" height="6"/><rect x="504.0" y="120.7" width="6" height="6"/><rect x="507.2" y="119.5" width="6" height="6"/><rect x="500.8" y="122.9" width="6" height="6"/><rect x="503.3" y="123.0" width="6" height="6"/><rect x="505.8" y="122.3" width="6" height="6"/><rect x="508.6" y="123.7" width="6" height="6"/><rect x="498.0" y="126.5" width="6" height="6"/><rect x="501.1" y="125.1" width="6" height="6"/><rect x="504.0" y="126.2" width="6" height="6"/><rect x="506.1" y="125.1" width="6" height="6"/><rect x="497.6" y="128.9" width="6" height="6"/><rect x="500.2" y="129.8" width="6" height="6"/><rect x="502.9" y="129.8" width="6" height="6"/><rect x="505.2" y="129.6" width="6" height="6"/><rect x="494.9" y="132.9" width="6" height="6"/><rect x="498.4" y="131.2" width="6" height="6"/><rect x="500.0" y="131.4" width="6" height="6"/><rect x="504.1" y="131.9" width="6" height="6"/><rect x="506.4" y="131.6" width="6" height="6"/><rect x="495.0" y="134.8" width="6" height="6"/><rect x="497.6" y="135.2" width="6" height="6"/><rect x="500.7" y="135.8" width="6" height="6"/><rect x="503.7" y="135.9" width="6" height="6"/><rect x="495.6" y="139.0" width="6" height="6"/><rect x="498.1" y="137.3" width="6" height="6"/><rect x="501.2" y="138.9" width="6" height="6"/><rect x="504.0" y="138.1" width="6" height="6"/><rect x="495.3" y="140.4" width="6" height="6"/><rect x="498.3" y="141.1" width="6" height="6"/><rect x="500.3" y="140.1" width="6" height="6"/><rect x="504.0" y="142.0" width="6" height="6"/><rect x="494.3" y="144.6" width="6" height="6"/><rect x="497.7" y="143.3" width="6" height="6"/><rect x="500.3" y="144.5" width="6" height="6"/><rect x="504.0" y="143.1" width="6" height="6"/><rect x="496.2" y="146.1" width="6" height="6"/><rect x="499.1" y="146.7" width="6" height="6"/><rect x="502.2" y="148.0" width="6" height="6"/><rect x="504.4" y="148.0" width="6" height="6"/><rect x="495.7" y="149.2" width="6" height="6"/><rect x="499.0" y="149.1" width="6" height="6"/><rect x="501.1" y="149.8" width="6" height="6"/><rect x="504.6" y="149.3" width="6" height="6"/><rect x="495.3" y="154.7" width="6" height="6"/><rect x="498.5" y="154.9" width="6" height="6"/><rect x="502.2" y="153.8" width="6" height="6"/><rect x="495.9" y="158.0" width="6" height="6"/><rect x="499.0" y="158.2" width="6" height="6"/><rect x="501.7" y="158.2" width="6" height="6"/><rect x="497.7" y="162.0" width="6" height="6"/><rect x="499.7" y="162.4" width="6" height="6"/></g><path d="M670.97,-2.92 L669.69,-2.18 L668.41,-1.43 L667.13,-0.69 L665.85,0.05 L664.58,0.79 L663.31,1.54 L662.04,2.28 L660.77,3.02 L659.51,3.77 L658.24,4.51 L656.98,5.25 L655.72,5.99 L654.46,6.74 L653.20,7.48 L651.95,8.22 L650.70,8.97 L649.45,9.71 L648.20,10.45 L646.96,11.19 L645.72,11.94 L644.47,12.68 L643.24,13.42 L642.00,14.17 L640.77,14.91 L639.54,15.65 L638.31,16.40 L637.09,17.14 L635.87,17.88 L634.65,18.62 L633.43,19.37 L632.22,20.11 L631.01,20.85 L629.80,21.60 L628.59,22.34 L627.39,23.08 L626.20,23.82 L625.00,24.57 L623.81,25.31 L622.62,26.05 L621.44,26.80 L620.25,27.54 L619.08,28.28 L617.90,29.03 L616.73,29.77 L615.57,30.51 L614.40,31.25 L613.24,32.00 L612.09,32.74 L610.94,33.48 L609.79,34.23 L608.65,34.97 L607.51,35.71 L606.37,36.45 L605.24,37.20 L604.12,37.94 L602.99,38.68 L601.88,39.43 L600.76,40.17 L599.66,40.91 L598.55,41.65 L597.45,42.40 L596.36,43.14 L595.27,43.88 L594.19,44.63 L593.11,45.37 L592.03,46.11 L590.96,46.86 L589.90,47.60 L588.84,48.34 L587.79,49.08 L586.74,49.83 L585.70,50.57 L584.66,51.31 L583.63,52.06 L582.61,52.80 L581.59,53.54 L580.58,54.28 L579.57,55.03 L578.57,55.77 L577.57,56.51 L576.58,57.26 L575.60,58.00 L574.62,58.74 L573.65,59.48 L572.69,60.23 L571.73,60.97 L570.78,61.71 L569.84,62.46 L568.90,63.20 L567.97,63.94 L567.04,64.69 L566.13,65.43 L565.22,66.17 L564.31,66.91 L563.42,67.66 L562.53,68.40 L561.64,69.14 L560.77,69.89 L559.90,70.63 L559.04,71.37 L558.18,72.11 L557.34,72.86 L556.50,73.60 L555.67,74.34 L554.84,75.09 L554.02,75.83 L553.21,76.57 L552.41,77.32 L551.62,78.06 L550.83,78.80 L550.05,79.54 L549.28,80.29 L548.52,81.03 L547.76,81.77 L547.01,82.52 L546.27,83.26 L545.54,84.00 L544.81,84.74 L544.09,85.49 L543.38,86.23 L542.68,86.97 L541.99,87.72 L541.30,88.46 L540.62,89.20 L539.95,89.94 L539.29,90.69 L538.63,91.43 L537.99,92.17 L537.35,92.92 L536.71,93.66 L536.09,94.40 L535.47,95.15 L534.87,95.89 L534.26,96.63 L533.67,97.37 L533.09,98.12 L532.51,98.86 L531.94,99.60 L531.38,100.35 L530.82,101.09 L530.27,101.83 L529.73,102.57 L529.20,103.32 L528.67,104.06 L528.16,104.80 L527.65,105.55 L527.14,106.29 L526.65,107.03 L526.16,107.77 L525.68,108.52 L525.20,109.26 L524.74,110.00 L524.28,110.75 L523.82,111.49 L523.38,112.23 L522.94,112.98 L522.50,113.72 L522.08,114.46 L521.66,115.20 L521.25,115.95 L520.84,116.69 L520.44,117.43 L520.05,118.18 L519.66,118.92 L519.28,119.66 L518.91,120.40 L518.54,121.15 L518.18,121.89 L517.82,122.63 L517.47,123.38 L517.13,124.12 L516.79,124.86 L516.46,125.61 L516.13,126.35 L515.81,127.09 L515.50,127.83 L515.19,128.58 L514.88,129.32 L514.58,130.06 L514.29,130.81 L514.00,131.55 L513.72,132.29 L513.44,133.03 L513.17,133.78 L512.90,134.52 L512.64,135.26 L512.38,136.01 L512.13,136.75 L511.88,137.49 L511.64,138.23 L511.40,138.98 L511.16,139.72 L510.93,140.46 L510.71,141.21 L510.49,141.95 L510.27,142.69 L510.06,143.44 L509.85,144.18 L509.64,144.92 L509.44,145.66 L509.24,146.41 L509.05,147.15 L508.86,147.89 L508.67,148.64 L508.49,149.38 L508.31,150.12 L508.14,150.86 L507.97,151.61 L507.80,152.35 L507.63,153.09 L507.47,153.84 L507.32,154.58 L507.16,155.32 L507.01,156.06 L506.86,156.81 L506.71,157.55 L506.57,158.29 L506.43,159.04 L506.29,159.78 L506.16,160.52 L506.03,161.27 L505.90,162.01 L505.77,162.75 L505.65,163.49 L505.53,164.24 L505.41,164.98 L505.30,165.72 L505.18,166.47 L505.07,167.21 L504.96,167.95 L504.86,168.69 L504.75,169.44 L504.65,170.18 L504.55,170.92 L504.45,171.67 L504.36,172.41 L504.26,173.15 L504.17,173.89 L504.08,174.64 L503.99,175.38 L503.91,176.12 L503.82,176.87 L503.74,177.61 L503.66,178.35 L503.58,179.10 L503.50,179.84 L503.43,180.58 L503.35,181.32 L503.28,182.07 L503.21,182.81 L503.14,183.55 L503.07,184.30 L503.01,185.04 L502.94,185.78 L502.88,186.52 L502.82,187.27 L502.76,188.01 L502.70,188.75 L502.64,189.50 L502.58,190.24 L502.53,190.98 L502.47,191.73 L502.42,192.47 L502.37,193.21 L502.32,193.95 L502.27,194.70 L502.22,195.44 L502.17,196.18 L502.12,196.93 L502.08,197.67 L502.03,198.41 L501.99,199.15 L501.95,199.90 L501.91,200.64 L501.87,201.38 L501.83,202.13 L501.79,202.87 L501.75,203.61 L501.71,204.35 L501.68,205.10 L501.64,205.84 L501.61,206.58 L501.57,207.33 L501.54,208.07 L501.51,208.81 L501.47,209.56 L501.44,210.30 L501.41,211.04 L501.38,211.78 L501.35,212.53 L501.33,213.27 L501.30,214.01 L501.27,214.76 L501.24,215.50 L501.22,216.24 L501.19,216.98 L501.17,217.73 L501.14,218.47 L501.12,219.21 L501.10,219.96 L501.07,220.70 L501.05,221.44 L501.03,222.18 L501.01,222.93 L500.99,223.67 L500.97,224.41 L500.95,225.16 L500.93,225.90 L500.91,226.64 L500.89,227.39 L500.87,228.13 L500.86,228.87 L500.84,229.61 L500.82,230.36 L500.81,231.10 L500.79,231.84 L500.77,232.59 L500.76,233.33 L500.74,234.07 L500.73,234.81 L500.71,235.56 L500.70,236.30 L500.69,237.04 L500.67,237.79 L500.66,238.53 L500.65,239.27 L500.63,240.02 L500.62,240.76 L500.61,241.50 L500.60,242.24 L500.59,242.99 L500.58,243.73 L500.56,244.47 L500.55,245.22 L500.54,245.96 L500.53,246.70 L500.53,246.95" fill="none" stroke="#000" stroke-width="3" stroke-dasharray="8.5,8.7" stroke-dashoffset="10.6" clip-path="url(#cclip)"/><path d="M459.5,1.5 V244.25 H730.5 V1.5" fill="none" stroke="#262626" stroke-width="1"/><rect x="459.0" y="0" width="272.0" height="1.8" fill="#a0a0a0"/><text x="443.4" y="70.9" font-family="Liberation Sans, sans-serif" font-size="17" fill="#000" text-anchor="end">10</text><text x="451.5" y="62.7" font-family="Liberation Sans, sans-serif" font-size="13.5" fill="#000" text-anchor="end">2</text><text x="443.4" y="192.6" font-family="Liberation Sans, sans-serif" font-size="17" fill="#000" text-anchor="end">10</text><text x="451.5" y="184.4" font-family="Liberation Sans, sans-serif" font-size="13.5" fill="#000" text-anchor="end">0</text><text x="515.9" y="273" font-family="Liberation Sans, sans-serif" font-size="17" fill="#000">10</text><text x="535.6" y="264.8" font-family="Liberation Sans, sans-serif" font-size="13.5" fill="#000">3</text><text x="651.4" y="273" font-family="Liberation Sans, sans-serif" font-size="17" fill="#000">10</text><text x="671.1" y="264.8" font-family="Liberation Sans, sans-serif" font-size="13.5" fill="#000">4</text><text x="595.4" y="297.2" font-family="Liberation Sans, sans-serif" font-size="19" fill="#000" text-anchor="middle">Average Resistance Value (<tspan font-family="Liberation Serif, serif" font-size="20">Ω</tspan>)</text><g transform="translate(416.5,122.4) rotate(-90)"><text x="0" y="0" font-family="Liberation Sans, sans-serif" font-size="19" fill="#000" text-anchor="middle">Noise Amplitude (<tspan font-family="Liberation Serif, serif" font-size="20">Ω</tspan>)</text></g><rect x="643" y="194" width="6.5" height="6.5" fill="none" stroke="#84c05c" stroke-width="1.05"/><line x1="624.2" y1="219.8" x2="667.2" y2="219.8" stroke="#000" stroke-width="3" stroke-dasharray="8.6,8.6"/><text x="670.2" y="202.8" font-family="Liberation Sans, sans-serif" font-size="17" fill="#000">Data</text><text x="670.2" y="226.3" font-family="Liberation Sans, sans-serif" font-size="17" fill="#000">Model</text></svg></body></html>
